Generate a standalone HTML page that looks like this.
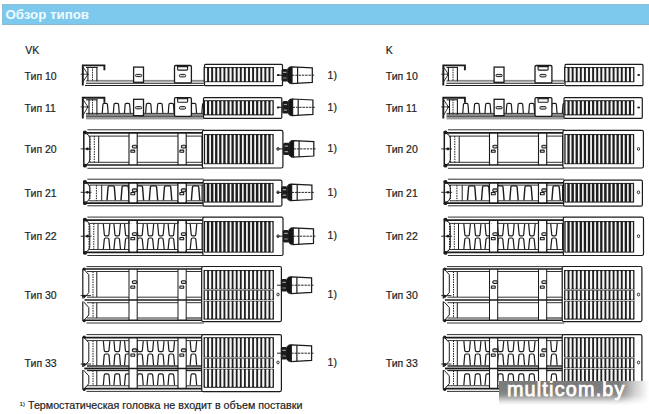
<!DOCTYPE html>
<html><head><meta charset="utf-8"><style>
html,body{margin:0;padding:0;background:#fff;}
body{width:649px;height:414px;position:relative;overflow:hidden;font-family:"Liberation Sans",sans-serif;color:#222;}
.bar{position:absolute;left:2px;top:4px;width:647px;height:21px;background:#7dc9ee;box-shadow:inset 0 1px 0 #8ebfd3, inset 0 -1px 0 #88b9cd, inset 1px 0 0 #8ebfd3;}
.bar span{position:absolute;left:3.4px;top:3.2px;font-size:13.3px;font-weight:bold;color:#effbff;}
.t{position:absolute;font-size:10.5px;white-space:nowrap;color:#1e1e1e;-webkit-text-stroke:0.2px #1e1e1e;}
.foot{position:absolute;left:28.0px;top:398.6px;font-size:10.7px;white-space:nowrap;color:#1e1e1e;-webkit-text-stroke:0.2px #1e1e1e;}
.sup{position:absolute;left:19.8px;top:400.7px;font-size:5.6px;color:#1e1e1e;-webkit-text-stroke:0.15px #1e1e1e;}
svg{position:absolute;left:0;top:0;}
.wm{position:absolute;left:499.3px;top:381.2px;width:150px;height:24px;overflow:hidden;background:#fff;}
.wm .sh{position:absolute;left:0;top:0;width:150px;height:24px;background:linear-gradient(180deg,#7a7a7a 0%,#7f7f7f 40%,#8e8e8e 58%,#b8b8b8 72%,#e4e4e4 86%,#fff 100%);-webkit-mask-image:linear-gradient(90deg,#000 0%,#000 80%,rgba(0,0,0,0.4) 90%,transparent 100%);}
.wm span{position:absolute;left:7.6px;top:-3.3px;font-size:19.8px;letter-spacing:1.2px;color:#fff;white-space:nowrap;-webkit-text-stroke:0.75px #fff;}
</style></head><body>
<div class="bar"><span>Обзор типов</span></div>
<div class="t" style="left:25.2px;top:43.9px">VK</div>
<div class="t" style="left:385.7px;top:43.9px">K</div>
<div class="t" style="left:24.6px;top:69.70px">Тип 10</div>
<div class="t" style="left:385.7px;top:69.70px">Тип 10</div>
<div class="t" style="left:327.6px;top:69.30px">1)</div>
<div class="t" style="left:24.6px;top:101.70px">Тип 11</div>
<div class="t" style="left:385.7px;top:101.70px">Тип 11</div>
<div class="t" style="left:327.6px;top:101.30px">1)</div>
<div class="t" style="left:24.6px;top:142.70px">Тип 20</div>
<div class="t" style="left:385.7px;top:142.70px">Тип 20</div>
<div class="t" style="left:327.6px;top:142.30px">1)</div>
<div class="t" style="left:24.6px;top:186.70px">Тип 21</div>
<div class="t" style="left:385.7px;top:186.70px">Тип 21</div>
<div class="t" style="left:327.6px;top:186.30px">1)</div>
<div class="t" style="left:24.6px;top:229.70px">Тип 22</div>
<div class="t" style="left:385.7px;top:229.70px">Тип 22</div>
<div class="t" style="left:327.6px;top:229.30px">1)</div>
<div class="t" style="left:24.6px;top:288.70px">Тип 30</div>
<div class="t" style="left:385.7px;top:288.70px">Тип 30</div>
<div class="t" style="left:327.6px;top:288.30px">1)</div>
<div class="t" style="left:24.6px;top:356.70px">Тип 33</div>
<div class="t" style="left:385.7px;top:356.70px">Тип 33</div>
<div class="t" style="left:327.6px;top:356.30px">1)</div>

<svg width="649" height="414" viewBox="0 0 649 414">
<g transform="translate(0,0)">
<rect x="86.00" y="79.90" width="117.80" height="1.80" fill="#8a8a8a" rx="0"/>
<line x1="86.00" y1="83.30" x2="203.80" y2="83.30" stroke="#1b1b1b" stroke-width="1.1" />
<line x1="85.00" y1="85.50" x2="203.80" y2="85.50" stroke="#1b1b1b" stroke-width="1.1" />
<path d="M82.8 85.60 L82.8 65.40 L104.4 65.40 L104.4 70.30" fill="none" stroke="#1b1b1b" stroke-width="1.9" />
<path d="M83.2 67.20 L87.9 74.20 L83.2 81.60" fill="none" stroke="#1b1b1b" stroke-width="0.9" />
<line x1="86.00" y1="67.40" x2="97.50" y2="67.40" stroke="#1b1b1b" stroke-width="1.1" />
<line x1="87.90" y1="67.00" x2="87.90" y2="81.00" stroke="#1b1b1b" stroke-width="1.1" />
<line x1="92.50" y1="67.00" x2="92.50" y2="81.00" stroke="#1b1b1b" stroke-width="0.9" stroke-dasharray="1.6 0.8"/>
<line x1="96.90" y1="67.00" x2="96.90" y2="81.20" stroke="#1b1b1b" stroke-width="1.1" />
<line x1="80.70" y1="74.20" x2="88.00" y2="74.20" stroke="#1b1b1b" stroke-width="0.8" />
<circle cx="87.60" cy="74.20" r="0.9" fill="#1b1b1b"/>
<rect x="133.60" y="67.10" width="9.90" height="15.20" fill="white" stroke="#1b1b1b" stroke-width="1.3" rx="0"/>
<rect x="135.50" y="74.40" width="6.20" height="2.20" fill="#ddd" stroke="#1b1b1b" stroke-width="1.0" rx="1.1"/>
<rect x="174.50" y="65.50" width="16.90" height="17.40" fill="white" stroke="#1b1b1b" stroke-width="1.3" rx="1.2"/>
<rect x="176.90" y="65.30" width="11.40" height="1.80" fill="#1b1b1b" rx="0"/>
<rect x="177.60" y="66.60" width="10.00" height="3.50" fill="white" stroke="#1b1b1b" stroke-width="1.1" rx="0.8"/>
<rect x="179.40" y="74.40" width="6.20" height="2.50" fill="#ddd" stroke="#1b1b1b" stroke-width="1.0" rx="1.1"/>
<rect x="204.50" y="64.40" width="78.00" height="21.30" fill="white" stroke="#1b1b1b" stroke-width="1.2" rx="1.0"/>
<rect x="203.60" y="67.00" width="70.30" height="15.20" fill="#1e1e1e" rx="0"/>
<rect x="204.90" y="67.80" width="2.20" height="13.60" fill="#f6f6f6" rx="1.0"/>
<rect x="208.99" y="67.80" width="2.20" height="13.60" fill="#f6f6f6" rx="1.0"/>
<rect x="213.09" y="67.80" width="2.20" height="13.60" fill="#f6f6f6" rx="1.0"/>
<rect x="217.18" y="67.80" width="2.20" height="13.60" fill="#f6f6f6" rx="1.0"/>
<rect x="221.28" y="67.80" width="2.20" height="13.60" fill="#f6f6f6" rx="1.0"/>
<rect x="225.37" y="67.80" width="2.20" height="13.60" fill="#f6f6f6" rx="1.0"/>
<rect x="229.46" y="67.80" width="2.20" height="13.60" fill="#f6f6f6" rx="1.0"/>
<rect x="233.56" y="67.80" width="2.20" height="13.60" fill="#f6f6f6" rx="1.0"/>
<rect x="237.65" y="67.80" width="2.20" height="13.60" fill="#f6f6f6" rx="1.0"/>
<rect x="241.74" y="67.80" width="2.20" height="13.60" fill="#f6f6f6" rx="1.0"/>
<rect x="245.84" y="67.80" width="2.20" height="13.60" fill="#f6f6f6" rx="1.0"/>
<rect x="249.93" y="67.80" width="2.20" height="13.60" fill="#f6f6f6" rx="1.0"/>
<rect x="254.03" y="67.80" width="2.20" height="13.60" fill="#f6f6f6" rx="1.0"/>
<rect x="258.12" y="67.80" width="2.20" height="13.60" fill="#f6f6f6" rx="1.0"/>
<rect x="262.21" y="67.80" width="2.20" height="13.60" fill="#f6f6f6" rx="1.0"/>
<rect x="266.31" y="67.80" width="2.20" height="13.60" fill="#f6f6f6" rx="1.0"/>
<rect x="270.40" y="67.80" width="2.20" height="13.60" fill="#f6f6f6" rx="1.0"/>
<ellipse cx="278.2" cy="75.00" rx="1.4" ry="1.0" fill="#1b1b1b"/>
<line x1="277.00" y1="75.20" x2="292.00" y2="75.20" stroke="#222" stroke-width="1.0" />
<rect x="281.60" y="69.00" width="6.20" height="12.40" fill="#1c1c1c" rx="1.6"/>
<rect x="283.00" y="71.80" width="3.60" height="1.20" fill="#9a9a9a" rx="0.5"/>
<rect x="283.00" y="77.40" width="3.60" height="1.20" fill="#9a9a9a" rx="0.5"/>
<path d="M287.60 68.80 L289.60 66.80 L292.00 66.80 L292.00 83.60 L289.60 83.60 L287.60 81.60 Z" fill="#151515" stroke="#1b1b1b" stroke-width="0.6" />
<path d="M292.00 66.90 L312.30 67.90 L312.30 82.30 L292.00 83.50 Z" fill="white" stroke="#1b1b1b" stroke-width="1.25" />
<line x1="297.60" y1="67.10" x2="297.60" y2="83.30" stroke="#1b1b1b" stroke-width="1.2" />
<line x1="292.00" y1="75.20" x2="314.40" y2="75.20" stroke="#222" stroke-width="1.0" stroke-dasharray="2.4 0.9"/>
<line x1="86.00" y1="113.40" x2="203.80" y2="113.40" stroke="#1b1b1b" stroke-width="0.9" />
<rect x="86.00" y="114.00" width="117.80" height="1.90" fill="#8c8c8c" rx="0"/>
<line x1="86.00" y1="116.35" x2="203.80" y2="116.35" stroke="#1b1b1b" stroke-width="0.9" />
<rect x="86.00" y="116.90" width="117.80" height="2.50" fill="#9a9a9a" rx="0"/>
<path d="M82.8 118.40 L82.8 97.80 L104.4 97.80 L104.4 102.70" fill="none" stroke="#1b1b1b" stroke-width="1.9" />
<path d="M83.2 99.60 L87.9 106.90 L83.2 115.10" fill="none" stroke="#1b1b1b" stroke-width="0.9" />
<line x1="86.00" y1="99.80" x2="97.50" y2="99.80" stroke="#1b1b1b" stroke-width="1.1" />
<line x1="89.00" y1="99.40" x2="89.00" y2="114.50" stroke="#1b1b1b" stroke-width="1.1" />
<line x1="92.50" y1="99.40" x2="92.50" y2="114.50" stroke="#1b1b1b" stroke-width="0.9" stroke-dasharray="1.6 0.8"/>
<line x1="96.90" y1="99.40" x2="96.90" y2="114.70" stroke="#1b1b1b" stroke-width="1.1" />
<line x1="80.70" y1="106.90" x2="88.00" y2="106.90" stroke="#1b1b1b" stroke-width="0.8" />
<circle cx="87.60" cy="106.90" r="0.9" fill="#1b1b1b"/>
<path d="M102.25 113.20 L102.90 104.70 Q102.90 103.30 104.30 103.30 L106.10 103.30 Q107.50 103.30 107.50 104.70 L108.15 113.20" fill="none" stroke="#1b1b1b" stroke-width="1.2" />
<path d="M113.35 113.20 L114.00 104.70 Q114.00 103.30 115.40 103.30 L117.20 103.30 Q118.60 103.30 118.60 104.70 L119.25 113.20" fill="none" stroke="#1b1b1b" stroke-width="1.2" />
<path d="M124.45 113.20 L125.10 104.70 Q125.10 103.30 126.50 103.30 L128.30 103.30 Q129.70 103.30 129.70 104.70 L130.35 113.20" fill="none" stroke="#1b1b1b" stroke-width="1.2" />
<path d="M145.65 113.20 L146.30 104.70 Q146.30 103.30 147.70 103.30 L149.50 103.30 Q150.90 103.30 150.90 104.70 L151.55 113.20" fill="none" stroke="#1b1b1b" stroke-width="1.2" />
<path d="M156.95 113.20 L157.60 104.70 Q157.60 103.30 159.00 103.30 L160.80 103.30 Q162.20 103.30 162.20 104.70 L162.85 113.20" fill="none" stroke="#1b1b1b" stroke-width="1.2" />
<path d="M168.25 113.20 L168.90 104.70 Q168.90 103.30 170.30 103.30 L172.10 103.30 Q173.50 103.30 173.50 104.70 L174.15 113.20" fill="none" stroke="#1b1b1b" stroke-width="1.2" />
<path d="M190.65 113.20 L191.30 104.70 Q191.30 103.30 192.70 103.30 L194.50 103.30 Q195.90 103.30 195.90 104.70 L196.55 113.20" fill="none" stroke="#1b1b1b" stroke-width="1.2" />
<path d="M201.85 113.20 L202.50 104.70 Q202.50 103.30 203.90 103.30 L205.70 103.30 Q207.10 103.30 207.10 104.70 L207.75 113.20" fill="none" stroke="#1b1b1b" stroke-width="1.2" />
<rect x="133.60" y="99.30" width="9.90" height="16.40" fill="white" stroke="#1b1b1b" stroke-width="1.3" rx="0"/>
<rect x="135.50" y="106.60" width="6.20" height="2.20" fill="#ddd" stroke="#1b1b1b" stroke-width="1.0" rx="1.1"/>
<rect x="174.50" y="97.70" width="16.90" height="18.60" fill="white" stroke="#1b1b1b" stroke-width="1.3" rx="1.2"/>
<rect x="176.90" y="97.50" width="11.40" height="1.80" fill="#1b1b1b" rx="0"/>
<rect x="177.60" y="98.80" width="10.00" height="3.50" fill="white" stroke="#1b1b1b" stroke-width="1.1" rx="0.8"/>
<rect x="179.40" y="106.60" width="6.20" height="2.50" fill="#ddd" stroke="#1b1b1b" stroke-width="1.0" rx="1.1"/>
<rect x="203.50" y="97.60" width="78.30" height="20.70" fill="white" stroke="#1b1b1b" stroke-width="1.2" rx="1.0"/>
<rect x="203.70" y="100.20" width="70.10" height="15.20" fill="#1e1e1e" rx="0"/>
<rect x="205.00" y="101.00" width="2.00" height="13.60" fill="#f6f6f6" rx="1.0"/>
<rect x="209.09" y="101.00" width="2.00" height="13.60" fill="#f6f6f6" rx="1.0"/>
<rect x="213.19" y="101.00" width="2.00" height="13.60" fill="#f6f6f6" rx="1.0"/>
<rect x="217.28" y="101.00" width="2.00" height="13.60" fill="#f6f6f6" rx="1.0"/>
<rect x="221.38" y="101.00" width="2.00" height="13.60" fill="#f6f6f6" rx="1.0"/>
<rect x="225.47" y="101.00" width="2.00" height="13.60" fill="#f6f6f6" rx="1.0"/>
<rect x="229.56" y="101.00" width="2.00" height="13.60" fill="#f6f6f6" rx="1.0"/>
<rect x="233.66" y="101.00" width="2.00" height="13.60" fill="#f6f6f6" rx="1.0"/>
<rect x="237.75" y="101.00" width="2.00" height="13.60" fill="#f6f6f6" rx="1.0"/>
<rect x="241.84" y="101.00" width="2.00" height="13.60" fill="#f6f6f6" rx="1.0"/>
<rect x="245.94" y="101.00" width="2.00" height="13.60" fill="#f6f6f6" rx="1.0"/>
<rect x="250.03" y="101.00" width="2.00" height="13.60" fill="#f6f6f6" rx="1.0"/>
<rect x="254.12" y="101.00" width="2.00" height="13.60" fill="#f6f6f6" rx="1.0"/>
<rect x="258.22" y="101.00" width="2.00" height="13.60" fill="#f6f6f6" rx="1.0"/>
<rect x="262.31" y="101.00" width="2.00" height="13.60" fill="#f6f6f6" rx="1.0"/>
<rect x="266.41" y="101.00" width="2.00" height="13.60" fill="#f6f6f6" rx="1.0"/>
<rect x="270.50" y="101.00" width="2.00" height="13.60" fill="#f6f6f6" rx="1.0"/>
<ellipse cx="278.2" cy="107.50" rx="1.4" ry="1.0" fill="#1b1b1b"/>
<line x1="277.00" y1="107.30" x2="292.60" y2="107.30" stroke="#222" stroke-width="1.0" />
<rect x="282.20" y="101.10" width="6.20" height="12.40" fill="#1c1c1c" rx="1.6"/>
<rect x="283.60" y="103.90" width="3.60" height="1.20" fill="#9a9a9a" rx="0.5"/>
<rect x="283.60" y="109.50" width="3.60" height="1.20" fill="#9a9a9a" rx="0.5"/>
<path d="M288.20 100.90 L290.20 98.90 L292.60 98.90 L292.60 115.70 L290.20 115.70 L288.20 113.70 Z" fill="#151515" stroke="#1b1b1b" stroke-width="0.6" />
<path d="M292.60 99.00 L312.90 100.00 L312.90 114.40 L292.60 115.60 Z" fill="white" stroke="#1b1b1b" stroke-width="1.25" />
<line x1="298.20" y1="99.20" x2="298.20" y2="115.40" stroke="#1b1b1b" stroke-width="1.2" />
<line x1="292.60" y1="107.30" x2="315.00" y2="107.30" stroke="#222" stroke-width="1.0" stroke-dasharray="2.4 0.9"/>
<line x1="87.40" y1="129.80" x2="203.80" y2="129.80" stroke="#1b1b1b" stroke-width="0.9" />
<line x1="84.40" y1="132.80" x2="203.80" y2="132.80" stroke="#1b1b1b" stroke-width="1.7" />
<line x1="89.40" y1="136.10" x2="129.00" y2="136.10" stroke="#1b1b1b" stroke-width="0.9" />
<line x1="137.20" y1="136.10" x2="178.00" y2="136.10" stroke="#1b1b1b" stroke-width="0.9" />
<line x1="186.20" y1="136.10" x2="203.80" y2="136.10" stroke="#1b1b1b" stroke-width="0.9" />
<line x1="87.40" y1="168.30" x2="203.80" y2="168.30" stroke="#1b1b1b" stroke-width="0.9" />
<line x1="84.40" y1="165.00" x2="203.80" y2="165.00" stroke="#1b1b1b" stroke-width="1.7" />
<line x1="89.40" y1="162.30" x2="129.00" y2="162.30" stroke="#1b1b1b" stroke-width="0.9" />
<line x1="137.20" y1="162.30" x2="178.00" y2="162.30" stroke="#1b1b1b" stroke-width="0.9" />
<line x1="186.20" y1="162.30" x2="203.80" y2="162.30" stroke="#1b1b1b" stroke-width="0.9" />
<line x1="90.00" y1="136.10" x2="90.00" y2="162.30" stroke="#1b1b1b" stroke-width="1.0" stroke-dasharray="1.5 1"/>
<line x1="94.30" y1="136.10" x2="94.30" y2="162.30" stroke="#1b1b1b" stroke-width="1.0" stroke-dasharray="1.5 1"/>
<line x1="98.70" y1="136.10" x2="98.70" y2="162.30" stroke="#1b1b1b" stroke-width="1.0" />
<line x1="129.00" y1="132.80" x2="129.00" y2="165.00" stroke="#1b1b1b" stroke-width="1.1" />
<line x1="137.20" y1="132.80" x2="137.20" y2="165.00" stroke="#1b1b1b" stroke-width="1.1" />
<line x1="178.00" y1="132.80" x2="178.00" y2="165.00" stroke="#1b1b1b" stroke-width="1.1" />
<line x1="186.20" y1="132.80" x2="186.20" y2="165.00" stroke="#1b1b1b" stroke-width="1.1" />
<line x1="202.00" y1="136.10" x2="202.00" y2="162.30" stroke="#1b1b1b" stroke-width="1.0" />
<line x1="83.80" y1="131.30" x2="83.80" y2="166.80" stroke="#1b1b1b" stroke-width="1.5" />
<circle cx="85.00" cy="132.40" r="1.9" fill="#1b1b1b"/>
<circle cx="85.00" cy="165.70" r="1.9" fill="#1b1b1b"/>
<path d="M85 132.80 Q89.8 134.80 89.8 138.30 L89.8 159.80 Q89.8 163.30 85 165.30" fill="none" stroke="#1b1b1b" stroke-width="1.0" />
<line x1="80.70" y1="148.90" x2="91.50" y2="148.90" stroke="#1b1b1b" stroke-width="0.9" />
<circle cx="87.40" cy="148.90" r="1.4" fill="#1b1b1b"/>
<rect x="132.30" y="145.20" width="4.60" height="2.80" fill="#cfcfcf" stroke="#1b1b1b" stroke-width="1.1" rx="1.2"/>
<rect x="130.90" y="150.10" width="3.80" height="2.20" fill="#e8e8e8" stroke="#1b1b1b" stroke-width="1.1" rx="0.3"/>
<rect x="181.30" y="145.20" width="4.60" height="2.80" fill="#cfcfcf" stroke="#1b1b1b" stroke-width="1.1" rx="1.2"/>
<rect x="179.90" y="150.10" width="3.80" height="2.20" fill="#e8e8e8" stroke="#1b1b1b" stroke-width="1.1" rx="0.3"/>
<rect x="202.40" y="130.40" width="80.50" height="37.60" fill="white" stroke="#1b1b1b" stroke-width="1.2" rx="1.5"/>
<rect x="203.80" y="134.00" width="69.90" height="30.20" fill="#1e1e1e" rx="0"/>
<rect x="205.10" y="134.80" width="1.80" height="28.60" fill="#f6f6f6" rx="0.9"/>
<rect x="209.19" y="134.80" width="1.80" height="28.60" fill="#f6f6f6" rx="0.9"/>
<rect x="213.29" y="134.80" width="1.80" height="28.60" fill="#f6f6f6" rx="0.9"/>
<rect x="217.38" y="134.80" width="1.80" height="28.60" fill="#f6f6f6" rx="0.9"/>
<rect x="221.47" y="134.80" width="1.80" height="28.60" fill="#f6f6f6" rx="0.9"/>
<rect x="225.57" y="134.80" width="1.80" height="28.60" fill="#f6f6f6" rx="0.9"/>
<rect x="229.66" y="134.80" width="1.80" height="28.60" fill="#f6f6f6" rx="0.9"/>
<rect x="233.76" y="134.80" width="1.80" height="28.60" fill="#f6f6f6" rx="0.9"/>
<rect x="237.85" y="134.80" width="1.80" height="28.60" fill="#f6f6f6" rx="0.9"/>
<rect x="241.94" y="134.80" width="1.80" height="28.60" fill="#f6f6f6" rx="0.9"/>
<rect x="246.04" y="134.80" width="1.80" height="28.60" fill="#f6f6f6" rx="0.9"/>
<rect x="250.13" y="134.80" width="1.80" height="28.60" fill="#f6f6f6" rx="0.9"/>
<rect x="254.22" y="134.80" width="1.80" height="28.60" fill="#f6f6f6" rx="0.9"/>
<rect x="258.32" y="134.80" width="1.80" height="28.60" fill="#f6f6f6" rx="0.9"/>
<rect x="262.41" y="134.80" width="1.80" height="28.60" fill="#f6f6f6" rx="0.9"/>
<rect x="266.51" y="134.80" width="1.80" height="28.60" fill="#f6f6f6" rx="0.9"/>
<rect x="270.60" y="134.80" width="1.80" height="28.60" fill="#f6f6f6" rx="0.9"/>
<ellipse cx="278.0" cy="148.90" rx="1.2" ry="1.4" fill="white" stroke="#1b1b1b" stroke-width="0.9"/>
<line x1="277.00" y1="148.90" x2="293.50" y2="148.90" stroke="#222" stroke-width="1.0" />
<rect x="283.10" y="142.70" width="6.20" height="12.40" fill="#1c1c1c" rx="1.6"/>
<rect x="284.50" y="145.50" width="3.60" height="1.20" fill="#9a9a9a" rx="0.5"/>
<rect x="284.50" y="151.10" width="3.60" height="1.20" fill="#9a9a9a" rx="0.5"/>
<path d="M289.10 142.50 L291.10 140.50 L293.50 140.50 L293.50 157.30 L291.10 157.30 L289.10 155.30 Z" fill="#151515" stroke="#1b1b1b" stroke-width="0.6" />
<path d="M293.50 140.60 L313.80 141.60 L313.80 156.00 L293.50 157.20 Z" fill="white" stroke="#1b1b1b" stroke-width="1.25" />
<line x1="299.10" y1="140.80" x2="299.10" y2="157.00" stroke="#1b1b1b" stroke-width="1.2" />
<line x1="293.50" y1="148.90" x2="315.90" y2="148.90" stroke="#222" stroke-width="1.0" stroke-dasharray="2.4 0.9"/>
<line x1="87.40" y1="179.20" x2="203.80" y2="179.20" stroke="#1b1b1b" stroke-width="0.9" />
<line x1="84.40" y1="182.80" x2="203.80" y2="182.80" stroke="#1b1b1b" stroke-width="1.7" />
<line x1="89.40" y1="185.10" x2="129.00" y2="185.10" stroke="#1b1b1b" stroke-width="0.9" />
<line x1="137.20" y1="185.10" x2="178.00" y2="185.10" stroke="#1b1b1b" stroke-width="0.9" />
<line x1="186.20" y1="185.10" x2="203.80" y2="185.10" stroke="#1b1b1b" stroke-width="0.9" />
<line x1="87.40" y1="205.80" x2="203.80" y2="205.80" stroke="#1b1b1b" stroke-width="0.9" />
<line x1="84.40" y1="203.10" x2="203.80" y2="203.10" stroke="#1b1b1b" stroke-width="1.7" />
<line x1="89.40" y1="200.80" x2="129.00" y2="200.80" stroke="#1b1b1b" stroke-width="0.9" />
<line x1="137.20" y1="200.80" x2="178.00" y2="200.80" stroke="#1b1b1b" stroke-width="0.9" />
<line x1="186.20" y1="200.80" x2="203.80" y2="200.80" stroke="#1b1b1b" stroke-width="0.9" />
<line x1="89.90" y1="185.10" x2="89.90" y2="200.80" stroke="#1b1b1b" stroke-width="1.0" stroke-dasharray="1.5 1"/>
<line x1="96.40" y1="185.10" x2="96.40" y2="200.80" stroke="#1b1b1b" stroke-width="1.0" stroke-dasharray="1.5 1"/>
<line x1="101.70" y1="185.10" x2="101.70" y2="200.80" stroke="#1b1b1b" stroke-width="1.0" />
<line x1="129.00" y1="182.80" x2="129.00" y2="203.10" stroke="#1b1b1b" stroke-width="1.1" />
<line x1="137.20" y1="182.80" x2="137.20" y2="203.10" stroke="#1b1b1b" stroke-width="1.1" />
<line x1="178.00" y1="182.80" x2="178.00" y2="203.10" stroke="#1b1b1b" stroke-width="1.1" />
<line x1="186.20" y1="182.80" x2="186.20" y2="203.10" stroke="#1b1b1b" stroke-width="1.1" />
<line x1="202.00" y1="185.10" x2="202.00" y2="200.80" stroke="#1b1b1b" stroke-width="1.0" />
<line x1="83.80" y1="180.70" x2="83.80" y2="204.30" stroke="#1b1b1b" stroke-width="1.5" />
<circle cx="85.00" cy="181.80" r="1.9" fill="#1b1b1b"/>
<circle cx="85.00" cy="203.20" r="1.9" fill="#1b1b1b"/>
<path d="M85 182.20 Q89.8 184.20 89.8 187.70 L89.8 197.30 Q89.8 200.80 85 202.80" fill="none" stroke="#1b1b1b" stroke-width="1.0" />
<line x1="80.70" y1="192.30" x2="91.50" y2="192.30" stroke="#1b1b1b" stroke-width="0.9" />
<circle cx="87.40" cy="192.30" r="1.4" fill="#1b1b1b"/>
<path d="M107.00 200.40 L108.05 187.30 Q108.05 185.90 109.45 185.90 L112.95 185.90 Q114.35 185.90 114.35 187.30 L115.40 200.40" fill="none" stroke="#1b1b1b" stroke-width="1.4" />
<path d="M121.00 200.40 L122.05 187.30 Q122.05 185.90 123.45 185.90 L126.95 185.90 Q128.35 185.90 128.35 187.30 L129.40 200.40" fill="none" stroke="#1b1b1b" stroke-width="1.4" />
<path d="M135.20 200.40 L136.25 187.30 Q136.25 185.90 137.65 185.90 L141.15 185.90 Q142.55 185.90 142.55 187.30 L143.60 200.40" fill="none" stroke="#1b1b1b" stroke-width="1.4" />
<path d="M149.30 200.40 L150.35 187.30 Q150.35 185.90 151.75 185.90 L155.25 185.90 Q156.65 185.90 156.65 187.30 L157.70 200.40" fill="none" stroke="#1b1b1b" stroke-width="1.4" />
<path d="M163.40 200.40 L164.45 187.30 Q164.45 185.90 165.85 185.90 L169.35 185.90 Q170.75 185.90 170.75 187.30 L171.80 200.40" fill="none" stroke="#1b1b1b" stroke-width="1.4" />
<path d="M191.40 200.40 L192.45 187.30 Q192.45 185.90 193.85 185.90 L197.35 185.90 Q198.75 185.90 198.75 187.30 L199.80 200.40" fill="none" stroke="#1b1b1b" stroke-width="1.4" />
<rect x="129.00" y="184.00" width="8.20" height="17.50" fill="white" rx="0"/>
<rect x="178.00" y="184.00" width="8.20" height="17.50" fill="white" rx="0"/>
<line x1="129.00" y1="182.80" x2="129.00" y2="203.10" stroke="#1b1b1b" stroke-width="1.1" />
<line x1="137.20" y1="182.80" x2="137.20" y2="203.10" stroke="#1b1b1b" stroke-width="1.1" />
<line x1="178.00" y1="182.80" x2="178.00" y2="203.10" stroke="#1b1b1b" stroke-width="1.1" />
<line x1="186.20" y1="182.80" x2="186.20" y2="203.10" stroke="#1b1b1b" stroke-width="1.1" />
<rect x="132.30" y="188.90" width="4.60" height="2.80" fill="#cfcfcf" stroke="#1b1b1b" stroke-width="1.1" rx="1.2"/>
<rect x="130.90" y="192.50" width="3.80" height="2.20" fill="#e8e8e8" stroke="#1b1b1b" stroke-width="1.1" rx="0.3"/>
<rect x="181.30" y="188.90" width="4.60" height="2.80" fill="#cfcfcf" stroke="#1b1b1b" stroke-width="1.1" rx="1.2"/>
<rect x="179.90" y="192.50" width="3.80" height="2.20" fill="#e8e8e8" stroke="#1b1b1b" stroke-width="1.1" rx="0.3"/>
<rect x="203.10" y="180.10" width="78.80" height="26.10" fill="white" stroke="#1b1b1b" stroke-width="1.2" rx="1.5"/>
<rect x="203.90" y="182.90" width="69.70" height="19.70" fill="#1e1e1e" rx="0"/>
<rect x="205.20" y="183.70" width="1.60" height="18.10" fill="#f6f6f6" rx="0.8"/>
<rect x="209.29" y="183.70" width="1.60" height="18.10" fill="#f6f6f6" rx="0.8"/>
<rect x="213.39" y="183.70" width="1.60" height="18.10" fill="#f6f6f6" rx="0.8"/>
<rect x="217.48" y="183.70" width="1.60" height="18.10" fill="#f6f6f6" rx="0.8"/>
<rect x="221.57" y="183.70" width="1.60" height="18.10" fill="#f6f6f6" rx="0.8"/>
<rect x="225.67" y="183.70" width="1.60" height="18.10" fill="#f6f6f6" rx="0.8"/>
<rect x="229.76" y="183.70" width="1.60" height="18.10" fill="#f6f6f6" rx="0.8"/>
<rect x="233.86" y="183.70" width="1.60" height="18.10" fill="#f6f6f6" rx="0.8"/>
<rect x="237.95" y="183.70" width="1.60" height="18.10" fill="#f6f6f6" rx="0.8"/>
<rect x="242.04" y="183.70" width="1.60" height="18.10" fill="#f6f6f6" rx="0.8"/>
<rect x="246.14" y="183.70" width="1.60" height="18.10" fill="#f6f6f6" rx="0.8"/>
<rect x="250.23" y="183.70" width="1.60" height="18.10" fill="#f6f6f6" rx="0.8"/>
<rect x="254.32" y="183.70" width="1.60" height="18.10" fill="#f6f6f6" rx="0.8"/>
<rect x="258.42" y="183.70" width="1.60" height="18.10" fill="#f6f6f6" rx="0.8"/>
<rect x="262.51" y="183.70" width="1.60" height="18.10" fill="#f6f6f6" rx="0.8"/>
<rect x="266.61" y="183.70" width="1.60" height="18.10" fill="#f6f6f6" rx="0.8"/>
<rect x="270.70" y="183.70" width="1.60" height="18.10" fill="#f6f6f6" rx="0.8"/>
<ellipse cx="278.0" cy="192.30" rx="1.2" ry="1.4" fill="white" stroke="#1b1b1b" stroke-width="0.9"/>
<line x1="277.00" y1="192.40" x2="291.60" y2="192.40" stroke="#222" stroke-width="1.0" />
<rect x="281.20" y="186.20" width="6.20" height="12.40" fill="#1c1c1c" rx="1.6"/>
<rect x="282.60" y="189.00" width="3.60" height="1.20" fill="#9a9a9a" rx="0.5"/>
<rect x="282.60" y="194.60" width="3.60" height="1.20" fill="#9a9a9a" rx="0.5"/>
<path d="M287.20 186.00 L289.20 184.00 L291.60 184.00 L291.60 200.80 L289.20 200.80 L287.20 198.80 Z" fill="#151515" stroke="#1b1b1b" stroke-width="0.6" />
<path d="M291.60 184.10 L311.90 185.10 L311.90 199.50 L291.60 200.70 Z" fill="white" stroke="#1b1b1b" stroke-width="1.25" />
<line x1="297.20" y1="184.30" x2="297.20" y2="200.50" stroke="#1b1b1b" stroke-width="1.2" />
<line x1="291.60" y1="192.40" x2="314.00" y2="192.40" stroke="#222" stroke-width="1.0" stroke-dasharray="2.4 0.9"/>
<line x1="87.40" y1="217.10" x2="203.80" y2="217.10" stroke="#1b1b1b" stroke-width="0.9" />
<line x1="84.40" y1="220.10" x2="203.80" y2="220.10" stroke="#1b1b1b" stroke-width="1.7" />
<line x1="89.40" y1="223.40" x2="129.00" y2="223.40" stroke="#1b1b1b" stroke-width="0.9" />
<line x1="137.20" y1="223.40" x2="178.00" y2="223.40" stroke="#1b1b1b" stroke-width="0.9" />
<line x1="186.20" y1="223.40" x2="203.80" y2="223.40" stroke="#1b1b1b" stroke-width="0.9" />
<line x1="87.40" y1="255.50" x2="203.80" y2="255.50" stroke="#1b1b1b" stroke-width="0.9" />
<line x1="84.40" y1="252.30" x2="203.80" y2="252.30" stroke="#1b1b1b" stroke-width="1.7" />
<line x1="89.40" y1="249.50" x2="129.00" y2="249.50" stroke="#1b1b1b" stroke-width="0.9" />
<line x1="137.20" y1="249.50" x2="178.00" y2="249.50" stroke="#1b1b1b" stroke-width="0.9" />
<line x1="186.20" y1="249.50" x2="203.80" y2="249.50" stroke="#1b1b1b" stroke-width="0.9" />
<line x1="89.00" y1="223.40" x2="89.00" y2="249.50" stroke="#1b1b1b" stroke-width="1.0" stroke-dasharray="1.5 1"/>
<line x1="93.80" y1="223.40" x2="93.80" y2="249.50" stroke="#1b1b1b" stroke-width="1.0" stroke-dasharray="1.5 1"/>
<line x1="98.00" y1="223.40" x2="98.00" y2="249.50" stroke="#1b1b1b" stroke-width="1.0" />
<line x1="129.00" y1="220.10" x2="129.00" y2="252.30" stroke="#1b1b1b" stroke-width="1.1" />
<line x1="137.20" y1="220.10" x2="137.20" y2="252.30" stroke="#1b1b1b" stroke-width="1.1" />
<line x1="178.00" y1="220.10" x2="178.00" y2="252.30" stroke="#1b1b1b" stroke-width="1.1" />
<line x1="186.20" y1="220.10" x2="186.20" y2="252.30" stroke="#1b1b1b" stroke-width="1.1" />
<line x1="202.00" y1="223.40" x2="202.00" y2="249.50" stroke="#1b1b1b" stroke-width="1.0" />
<line x1="83.80" y1="218.60" x2="83.80" y2="254.00" stroke="#1b1b1b" stroke-width="1.5" />
<circle cx="85.00" cy="219.70" r="1.9" fill="#1b1b1b"/>
<circle cx="85.00" cy="252.90" r="1.9" fill="#1b1b1b"/>
<path d="M85 220.10 Q89.8 222.10 89.8 225.60 L89.8 247.00 Q89.8 250.50 85 252.50" fill="none" stroke="#1b1b1b" stroke-width="1.0" />
<line x1="80.70" y1="236.20" x2="91.50" y2="236.20" stroke="#1b1b1b" stroke-width="0.9" />
<circle cx="87.40" cy="236.20" r="1.4" fill="#1b1b1b"/>
<path d="M103.30 223.80 L104.30 234.40 Q104.30 235.80 105.70 235.80 L107.50 235.80 Q108.90 235.80 108.90 234.40 L109.90 223.80" fill="none" stroke="#1b1b1b" stroke-width="1.2" />
<path d="M113.90 223.80 L114.90 234.40 Q114.90 235.80 116.30 235.80 L118.10 235.80 Q119.50 235.80 119.50 234.40 L120.50 223.80" fill="none" stroke="#1b1b1b" stroke-width="1.2" />
<path d="M124.50 223.80 L125.50 234.40 Q125.50 235.80 126.90 235.80 L128.70 235.80 Q130.10 235.80 130.10 234.40 L131.10 223.80" fill="none" stroke="#1b1b1b" stroke-width="1.2" />
<path d="M136.70 223.80 L137.70 234.40 Q137.70 235.80 139.10 235.80 L140.90 235.80 Q142.30 235.80 142.30 234.40 L143.30 223.80" fill="none" stroke="#1b1b1b" stroke-width="1.2" />
<path d="M147.10 223.80 L148.10 234.40 Q148.10 235.80 149.50 235.80 L151.30 235.80 Q152.70 235.80 152.70 234.40 L153.70 223.80" fill="none" stroke="#1b1b1b" stroke-width="1.2" />
<path d="M157.60 223.80 L158.60 234.40 Q158.60 235.80 160.00 235.80 L161.80 235.80 Q163.20 235.80 163.20 234.40 L164.20 223.80" fill="none" stroke="#1b1b1b" stroke-width="1.2" />
<path d="M168.10 223.80 L169.10 234.40 Q169.10 235.80 170.50 235.80 L172.30 235.80 Q173.70 235.80 173.70 234.40 L174.70 223.80" fill="none" stroke="#1b1b1b" stroke-width="1.2" />
<path d="M190.20 223.80 L191.20 234.40 Q191.20 235.80 192.60 235.80 L194.40 235.80 Q195.80 235.80 195.80 234.40 L196.80 223.80" fill="none" stroke="#1b1b1b" stroke-width="1.2" />
<path d="M103.30 249.40 L104.30 239.40 Q104.30 238.00 105.70 238.00 L107.50 238.00 Q108.90 238.00 108.90 239.40 L109.90 249.40" fill="none" stroke="#1b1b1b" stroke-width="1.2" />
<path d="M113.90 249.40 L114.90 239.40 Q114.90 238.00 116.30 238.00 L118.10 238.00 Q119.50 238.00 119.50 239.40 L120.50 249.40" fill="none" stroke="#1b1b1b" stroke-width="1.2" />
<path d="M124.50 249.40 L125.50 239.40 Q125.50 238.00 126.90 238.00 L128.70 238.00 Q130.10 238.00 130.10 239.40 L131.10 249.40" fill="none" stroke="#1b1b1b" stroke-width="1.2" />
<path d="M136.70 249.40 L137.70 239.40 Q137.70 238.00 139.10 238.00 L140.90 238.00 Q142.30 238.00 142.30 239.40 L143.30 249.40" fill="none" stroke="#1b1b1b" stroke-width="1.2" />
<path d="M147.10 249.40 L148.10 239.40 Q148.10 238.00 149.50 238.00 L151.30 238.00 Q152.70 238.00 152.70 239.40 L153.70 249.40" fill="none" stroke="#1b1b1b" stroke-width="1.2" />
<path d="M157.60 249.40 L158.60 239.40 Q158.60 238.00 160.00 238.00 L161.80 238.00 Q163.20 238.00 163.20 239.40 L164.20 249.40" fill="none" stroke="#1b1b1b" stroke-width="1.2" />
<path d="M168.10 249.40 L169.10 239.40 Q169.10 238.00 170.50 238.00 L172.30 238.00 Q173.70 238.00 173.70 239.40 L174.70 249.40" fill="none" stroke="#1b1b1b" stroke-width="1.2" />
<path d="M190.20 249.40 L191.20 239.40 Q191.20 238.00 192.60 238.00 L194.40 238.00 Q195.80 238.00 195.80 239.40 L196.80 249.40" fill="none" stroke="#1b1b1b" stroke-width="1.2" />
<rect x="129.00" y="224.00" width="8.20" height="26.00" fill="white" rx="0"/>
<rect x="178.00" y="224.00" width="8.20" height="26.00" fill="white" rx="0"/>
<line x1="129.00" y1="220.10" x2="129.00" y2="252.30" stroke="#1b1b1b" stroke-width="1.1" />
<line x1="137.20" y1="220.10" x2="137.20" y2="252.30" stroke="#1b1b1b" stroke-width="1.1" />
<line x1="178.00" y1="220.10" x2="178.00" y2="252.30" stroke="#1b1b1b" stroke-width="1.1" />
<line x1="186.20" y1="220.10" x2="186.20" y2="252.30" stroke="#1b1b1b" stroke-width="1.1" />
<rect x="132.30" y="232.70" width="4.60" height="2.80" fill="#cfcfcf" stroke="#1b1b1b" stroke-width="1.1" rx="1.2"/>
<rect x="130.90" y="237.50" width="3.80" height="2.20" fill="#e8e8e8" stroke="#1b1b1b" stroke-width="1.1" rx="0.3"/>
<rect x="181.30" y="232.70" width="4.60" height="2.80" fill="#cfcfcf" stroke="#1b1b1b" stroke-width="1.1" rx="1.2"/>
<rect x="179.90" y="237.50" width="3.80" height="2.20" fill="#e8e8e8" stroke="#1b1b1b" stroke-width="1.1" rx="0.3"/>
<rect x="202.80" y="217.20" width="80.20" height="38.30" fill="white" stroke="#1b1b1b" stroke-width="1.2" rx="1.5"/>
<rect x="203.80" y="221.00" width="69.90" height="31.60" fill="#1e1e1e" rx="0"/>
<rect x="205.10" y="221.80" width="1.80" height="30.00" fill="#f6f6f6" rx="0.9"/>
<rect x="209.19" y="221.80" width="1.80" height="30.00" fill="#f6f6f6" rx="0.9"/>
<rect x="213.29" y="221.80" width="1.80" height="30.00" fill="#f6f6f6" rx="0.9"/>
<rect x="217.38" y="221.80" width="1.80" height="30.00" fill="#f6f6f6" rx="0.9"/>
<rect x="221.47" y="221.80" width="1.80" height="30.00" fill="#f6f6f6" rx="0.9"/>
<rect x="225.57" y="221.80" width="1.80" height="30.00" fill="#f6f6f6" rx="0.9"/>
<rect x="229.66" y="221.80" width="1.80" height="30.00" fill="#f6f6f6" rx="0.9"/>
<rect x="233.76" y="221.80" width="1.80" height="30.00" fill="#f6f6f6" rx="0.9"/>
<rect x="237.85" y="221.80" width="1.80" height="30.00" fill="#f6f6f6" rx="0.9"/>
<rect x="241.94" y="221.80" width="1.80" height="30.00" fill="#f6f6f6" rx="0.9"/>
<rect x="246.04" y="221.80" width="1.80" height="30.00" fill="#f6f6f6" rx="0.9"/>
<rect x="250.13" y="221.80" width="1.80" height="30.00" fill="#f6f6f6" rx="0.9"/>
<rect x="254.22" y="221.80" width="1.80" height="30.00" fill="#f6f6f6" rx="0.9"/>
<rect x="258.32" y="221.80" width="1.80" height="30.00" fill="#f6f6f6" rx="0.9"/>
<rect x="262.41" y="221.80" width="1.80" height="30.00" fill="#f6f6f6" rx="0.9"/>
<rect x="266.51" y="221.80" width="1.80" height="30.00" fill="#f6f6f6" rx="0.9"/>
<rect x="270.60" y="221.80" width="1.80" height="30.00" fill="#f6f6f6" rx="0.9"/>
<ellipse cx="278.0" cy="236.20" rx="1.2" ry="1.4" fill="white" stroke="#1b1b1b" stroke-width="0.9"/>
<line x1="277.00" y1="236.20" x2="293.20" y2="236.20" stroke="#222" stroke-width="1.0" />
<rect x="282.80" y="230.00" width="6.20" height="12.40" fill="#1c1c1c" rx="1.6"/>
<rect x="284.20" y="232.80" width="3.60" height="1.20" fill="#9a9a9a" rx="0.5"/>
<rect x="284.20" y="238.40" width="3.60" height="1.20" fill="#9a9a9a" rx="0.5"/>
<path d="M288.80 229.80 L290.80 227.80 L293.20 227.80 L293.20 244.60 L290.80 244.60 L288.80 242.60 Z" fill="#151515" stroke="#1b1b1b" stroke-width="0.6" />
<path d="M293.20 227.90 L313.50 228.90 L313.50 243.30 L293.20 244.50 Z" fill="white" stroke="#1b1b1b" stroke-width="1.25" />
<line x1="298.80" y1="228.10" x2="298.80" y2="244.30" stroke="#1b1b1b" stroke-width="1.2" />
<line x1="293.20" y1="236.20" x2="315.60" y2="236.20" stroke="#222" stroke-width="1.0" stroke-dasharray="2.4 0.9"/>
<line x1="86.50" y1="266.60" x2="203.80" y2="266.60" stroke="#1b1b1b" stroke-width="0.9" />
<line x1="84.50" y1="269.00" x2="203.80" y2="269.00" stroke="#1b1b1b" stroke-width="1.7" />
<line x1="87.00" y1="271.50" x2="129.00" y2="271.50" stroke="#1b1b1b" stroke-width="0.9" />
<line x1="137.20" y1="271.50" x2="178.00" y2="271.50" stroke="#1b1b1b" stroke-width="0.9" />
<line x1="186.20" y1="271.50" x2="203.30" y2="271.50" stroke="#1b1b1b" stroke-width="0.9" />
<line x1="87.00" y1="297.20" x2="129.00" y2="297.20" stroke="#1b1b1b" stroke-width="0.9" />
<line x1="137.20" y1="297.20" x2="178.00" y2="297.20" stroke="#1b1b1b" stroke-width="0.9" />
<line x1="186.20" y1="297.20" x2="203.30" y2="297.20" stroke="#1b1b1b" stroke-width="0.9" />
<line x1="84.50" y1="300.10" x2="203.80" y2="300.10" stroke="#1b1b1b" stroke-width="1.5" />
<line x1="87.00" y1="302.70" x2="129.00" y2="302.70" stroke="#1b1b1b" stroke-width="0.9" />
<line x1="137.20" y1="302.70" x2="178.00" y2="302.70" stroke="#1b1b1b" stroke-width="0.9" />
<line x1="186.20" y1="302.70" x2="203.30" y2="302.70" stroke="#1b1b1b" stroke-width="0.9" />
<line x1="87.00" y1="318.00" x2="129.00" y2="318.00" stroke="#333" stroke-width="1.2" />
<line x1="137.20" y1="318.00" x2="178.00" y2="318.00" stroke="#333" stroke-width="1.2" />
<line x1="186.20" y1="318.00" x2="203.30" y2="318.00" stroke="#333" stroke-width="1.2" />
<line x1="84.50" y1="320.20" x2="203.80" y2="320.20" stroke="#1b1b1b" stroke-width="1.6" />
<line x1="86.50" y1="323.00" x2="203.80" y2="323.00" stroke="#1b1b1b" stroke-width="0.9" />
<line x1="93.00" y1="271.50" x2="93.00" y2="297.20" stroke="#1b1b1b" stroke-width="1.0" stroke-dasharray="1.5 1"/>
<line x1="96.80" y1="271.50" x2="96.80" y2="297.20" stroke="#1b1b1b" stroke-width="1.0" />
<line x1="93.00" y1="302.70" x2="93.00" y2="318.00" stroke="#1b1b1b" stroke-width="1.0" stroke-dasharray="1.5 1"/>
<line x1="96.80" y1="302.70" x2="96.80" y2="318.00" stroke="#1b1b1b" stroke-width="1.0" />
<line x1="129.00" y1="269.00" x2="129.00" y2="320.20" stroke="#1b1b1b" stroke-width="1.0" />
<line x1="137.20" y1="269.00" x2="137.20" y2="320.20" stroke="#1b1b1b" stroke-width="1.0" />
<line x1="178.00" y1="269.00" x2="178.00" y2="320.20" stroke="#1b1b1b" stroke-width="1.0" />
<line x1="186.20" y1="269.00" x2="186.20" y2="320.20" stroke="#1b1b1b" stroke-width="1.0" />
<line x1="202.00" y1="271.50" x2="202.00" y2="318.00" stroke="#1b1b1b" stroke-width="1.0" />
<line x1="82.80" y1="268.80" x2="82.80" y2="298.60" stroke="#1b1b1b" stroke-width="1.2" />
<path d="M83.6 269.00 L88.8 274.70 L88.8 292.70 L83.6 298.40" fill="none" stroke="#1b1b1b" stroke-width="1.0" />
<line x1="82.80" y1="301.60" x2="82.80" y2="320.90" stroke="#1b1b1b" stroke-width="1.2" />
<path d="M83.6 301.80 L88.8 307.50 L88.8 315.00 L83.6 320.70" fill="none" stroke="#1b1b1b" stroke-width="1.0" />
<circle cx="84.20" cy="269.00" r="1.5" fill="#1b1b1b"/>
<circle cx="84.20" cy="320.70" r="1.5" fill="#1b1b1b"/>
<circle cx="84.20" cy="296.20" r="1.4" fill="#1b1b1b"/>
<line x1="80.70" y1="295.60" x2="91.00" y2="295.60" stroke="#1b1b1b" stroke-width="0.9" />
<rect x="132.30" y="280.70" width="4.60" height="2.80" fill="#cfcfcf" stroke="#1b1b1b" stroke-width="1.1" rx="1.2"/>
<rect x="130.90" y="286.00" width="3.80" height="2.20" fill="#e8e8e8" stroke="#1b1b1b" stroke-width="1.1" rx="0.3"/>
<rect x="181.30" y="280.70" width="4.60" height="2.80" fill="#cfcfcf" stroke="#1b1b1b" stroke-width="1.1" rx="1.2"/>
<rect x="179.90" y="286.00" width="3.80" height="2.20" fill="#e8e8e8" stroke="#1b1b1b" stroke-width="1.1" rx="0.3"/>
<rect x="201.70" y="266.50" width="79.70" height="55.10" fill="white" stroke="#1b1b1b" stroke-width="1.2" rx="1.5"/>
<rect x="203.55" y="270.00" width="70.40" height="49.60" fill="#1e1e1e" rx="0"/>
<rect x="204.85" y="270.80" width="2.30" height="18.25" fill="#f6f6f6" rx="1.0"/>
<rect x="204.85" y="290.55" width="2.30" height="9.30" fill="#f6f6f6" rx="1.0"/>
<rect x="204.85" y="301.35" width="2.30" height="17.45" fill="#f6f6f6" rx="1.0"/>
<rect x="208.94" y="270.80" width="2.30" height="18.25" fill="#f6f6f6" rx="1.0"/>
<rect x="208.94" y="290.55" width="2.30" height="9.30" fill="#f6f6f6" rx="1.0"/>
<rect x="208.94" y="301.35" width="2.30" height="17.45" fill="#f6f6f6" rx="1.0"/>
<rect x="213.04" y="270.80" width="2.30" height="18.25" fill="#f6f6f6" rx="1.0"/>
<rect x="213.04" y="290.55" width="2.30" height="9.30" fill="#f6f6f6" rx="1.0"/>
<rect x="213.04" y="301.35" width="2.30" height="17.45" fill="#f6f6f6" rx="1.0"/>
<rect x="217.13" y="270.80" width="2.30" height="18.25" fill="#f6f6f6" rx="1.0"/>
<rect x="217.13" y="290.55" width="2.30" height="9.30" fill="#f6f6f6" rx="1.0"/>
<rect x="217.13" y="301.35" width="2.30" height="17.45" fill="#f6f6f6" rx="1.0"/>
<rect x="221.22" y="270.80" width="2.30" height="18.25" fill="#f6f6f6" rx="1.0"/>
<rect x="221.22" y="290.55" width="2.30" height="9.30" fill="#f6f6f6" rx="1.0"/>
<rect x="221.22" y="301.35" width="2.30" height="17.45" fill="#f6f6f6" rx="1.0"/>
<rect x="225.32" y="270.80" width="2.30" height="18.25" fill="#f6f6f6" rx="1.0"/>
<rect x="225.32" y="290.55" width="2.30" height="9.30" fill="#f6f6f6" rx="1.0"/>
<rect x="225.32" y="301.35" width="2.30" height="17.45" fill="#f6f6f6" rx="1.0"/>
<rect x="229.41" y="270.80" width="2.30" height="18.25" fill="#f6f6f6" rx="1.0"/>
<rect x="229.41" y="290.55" width="2.30" height="9.30" fill="#f6f6f6" rx="1.0"/>
<rect x="229.41" y="301.35" width="2.30" height="17.45" fill="#f6f6f6" rx="1.0"/>
<rect x="233.51" y="270.80" width="2.30" height="18.25" fill="#f6f6f6" rx="1.0"/>
<rect x="233.51" y="290.55" width="2.30" height="9.30" fill="#f6f6f6" rx="1.0"/>
<rect x="233.51" y="301.35" width="2.30" height="17.45" fill="#f6f6f6" rx="1.0"/>
<rect x="237.60" y="270.80" width="2.30" height="18.25" fill="#f6f6f6" rx="1.0"/>
<rect x="237.60" y="290.55" width="2.30" height="9.30" fill="#f6f6f6" rx="1.0"/>
<rect x="237.60" y="301.35" width="2.30" height="17.45" fill="#f6f6f6" rx="1.0"/>
<rect x="241.69" y="270.80" width="2.30" height="18.25" fill="#f6f6f6" rx="1.0"/>
<rect x="241.69" y="290.55" width="2.30" height="9.30" fill="#f6f6f6" rx="1.0"/>
<rect x="241.69" y="301.35" width="2.30" height="17.45" fill="#f6f6f6" rx="1.0"/>
<rect x="245.79" y="270.80" width="2.30" height="18.25" fill="#f6f6f6" rx="1.0"/>
<rect x="245.79" y="290.55" width="2.30" height="9.30" fill="#f6f6f6" rx="1.0"/>
<rect x="245.79" y="301.35" width="2.30" height="17.45" fill="#f6f6f6" rx="1.0"/>
<rect x="249.88" y="270.80" width="2.30" height="18.25" fill="#f6f6f6" rx="1.0"/>
<rect x="249.88" y="290.55" width="2.30" height="9.30" fill="#f6f6f6" rx="1.0"/>
<rect x="249.88" y="301.35" width="2.30" height="17.45" fill="#f6f6f6" rx="1.0"/>
<rect x="253.97" y="270.80" width="2.30" height="18.25" fill="#f6f6f6" rx="1.0"/>
<rect x="253.97" y="290.55" width="2.30" height="9.30" fill="#f6f6f6" rx="1.0"/>
<rect x="253.97" y="301.35" width="2.30" height="17.45" fill="#f6f6f6" rx="1.0"/>
<rect x="258.07" y="270.80" width="2.30" height="18.25" fill="#f6f6f6" rx="1.0"/>
<rect x="258.07" y="290.55" width="2.30" height="9.30" fill="#f6f6f6" rx="1.0"/>
<rect x="258.07" y="301.35" width="2.30" height="17.45" fill="#f6f6f6" rx="1.0"/>
<rect x="262.16" y="270.80" width="2.30" height="18.25" fill="#f6f6f6" rx="1.0"/>
<rect x="262.16" y="290.55" width="2.30" height="9.30" fill="#f6f6f6" rx="1.0"/>
<rect x="262.16" y="301.35" width="2.30" height="17.45" fill="#f6f6f6" rx="1.0"/>
<rect x="266.26" y="270.80" width="2.30" height="18.25" fill="#f6f6f6" rx="1.0"/>
<rect x="266.26" y="290.55" width="2.30" height="9.30" fill="#f6f6f6" rx="1.0"/>
<rect x="266.26" y="301.35" width="2.30" height="17.45" fill="#f6f6f6" rx="1.0"/>
<rect x="270.35" y="270.80" width="2.30" height="18.25" fill="#f6f6f6" rx="1.0"/>
<rect x="270.35" y="290.55" width="2.30" height="9.30" fill="#f6f6f6" rx="1.0"/>
<rect x="270.35" y="301.35" width="2.30" height="17.45" fill="#f6f6f6" rx="1.0"/>
<rect x="203.55" y="289.35" width="70.40" height="0.90" fill="#e8e8e8" rx="0"/>
<rect x="203.55" y="300.15" width="70.40" height="0.90" fill="#e8e8e8" rx="0"/>
<ellipse cx="278.0" cy="294.50" rx="1.2" ry="1.4" fill="white" stroke="#1b1b1b" stroke-width="0.9"/>
<line x1="277.00" y1="285.20" x2="291.30" y2="285.20" stroke="#222" stroke-width="1.0" />
<rect x="280.90" y="279.00" width="6.20" height="12.40" fill="#1c1c1c" rx="1.6"/>
<rect x="282.30" y="281.80" width="3.60" height="1.20" fill="#9a9a9a" rx="0.5"/>
<rect x="282.30" y="287.40" width="3.60" height="1.20" fill="#9a9a9a" rx="0.5"/>
<path d="M286.90 278.80 L288.90 276.80 L291.30 276.80 L291.30 293.60 L288.90 293.60 L286.90 291.60 Z" fill="#151515" stroke="#1b1b1b" stroke-width="0.6" />
<path d="M291.30 276.90 L311.60 277.90 L311.60 292.30 L291.30 293.50 Z" fill="white" stroke="#1b1b1b" stroke-width="1.25" />
<line x1="296.90" y1="277.10" x2="296.90" y2="293.30" stroke="#1b1b1b" stroke-width="1.2" />
<line x1="291.30" y1="285.20" x2="313.70" y2="285.20" stroke="#222" stroke-width="1.0" stroke-dasharray="2.4 0.9"/>
<line x1="86.50" y1="334.60" x2="203.80" y2="334.60" stroke="#1b1b1b" stroke-width="0.9" />
<line x1="84.50" y1="337.60" x2="203.80" y2="337.60" stroke="#1b1b1b" stroke-width="1.7" />
<line x1="87.00" y1="340.60" x2="129.00" y2="340.60" stroke="#1b1b1b" stroke-width="0.9" />
<line x1="137.20" y1="340.60" x2="178.00" y2="340.60" stroke="#1b1b1b" stroke-width="0.9" />
<line x1="186.20" y1="340.60" x2="203.30" y2="340.60" stroke="#1b1b1b" stroke-width="0.9" />
<line x1="87.00" y1="366.00" x2="129.00" y2="366.00" stroke="#1b1b1b" stroke-width="0.9" />
<line x1="137.20" y1="366.00" x2="178.00" y2="366.00" stroke="#1b1b1b" stroke-width="0.9" />
<line x1="186.20" y1="366.00" x2="203.30" y2="366.00" stroke="#1b1b1b" stroke-width="0.9" />
<line x1="84.50" y1="368.50" x2="203.80" y2="368.50" stroke="#1b1b1b" stroke-width="1.5" />
<line x1="87.00" y1="370.60" x2="129.00" y2="370.60" stroke="#1b1b1b" stroke-width="0.9" />
<line x1="137.20" y1="370.60" x2="178.00" y2="370.60" stroke="#1b1b1b" stroke-width="0.9" />
<line x1="186.20" y1="370.60" x2="203.30" y2="370.60" stroke="#1b1b1b" stroke-width="0.9" />
<line x1="87.00" y1="385.80" x2="129.00" y2="385.80" stroke="#333" stroke-width="1.1" />
<line x1="137.20" y1="385.80" x2="178.00" y2="385.80" stroke="#333" stroke-width="1.1" />
<line x1="186.20" y1="385.80" x2="203.30" y2="385.80" stroke="#333" stroke-width="1.1" />
<line x1="84.50" y1="388.60" x2="203.80" y2="388.60" stroke="#1b1b1b" stroke-width="1.7" />
<line x1="86.50" y1="391.40" x2="203.80" y2="391.40" stroke="#1b1b1b" stroke-width="0.9" />
<line x1="93.00" y1="340.60" x2="93.00" y2="366.00" stroke="#1b1b1b" stroke-width="1.0" stroke-dasharray="1.5 1"/>
<line x1="96.80" y1="340.60" x2="96.80" y2="366.00" stroke="#1b1b1b" stroke-width="1.0" />
<line x1="93.00" y1="370.60" x2="93.00" y2="385.80" stroke="#1b1b1b" stroke-width="1.0" stroke-dasharray="1.5 1"/>
<line x1="96.80" y1="370.60" x2="96.80" y2="385.80" stroke="#1b1b1b" stroke-width="1.0" />
<line x1="82.80" y1="336.80" x2="82.80" y2="367.00" stroke="#1b1b1b" stroke-width="1.2" />
<path d="M83.6 337.00 L88.8 342.70 L88.8 361.10 L83.6 366.80" fill="none" stroke="#1b1b1b" stroke-width="1.0" />
<line x1="82.80" y1="370.00" x2="82.80" y2="389.60" stroke="#1b1b1b" stroke-width="1.2" />
<path d="M83.6 370.20 L88.8 375.90 L88.8 383.70 L83.6 389.40" fill="none" stroke="#1b1b1b" stroke-width="1.0" />
<circle cx="84.20" cy="337.00" r="1.5" fill="#1b1b1b"/>
<circle cx="84.20" cy="389.60" r="1.5" fill="#1b1b1b"/>
<circle cx="84.20" cy="364.60" r="1.4" fill="#1b1b1b"/>
<line x1="80.70" y1="364.00" x2="91.00" y2="364.00" stroke="#1b1b1b" stroke-width="0.9" />
<path d="M103.35 341.10 L104.20 350.30 Q104.20 351.70 105.60 351.70 L107.60 351.70 Q109.00 351.70 109.00 350.30 L109.85 341.10" fill="none" stroke="#1b1b1b" stroke-width="1.2" />
<path d="M113.95 341.10 L114.80 350.30 Q114.80 351.70 116.20 351.70 L118.20 351.70 Q119.60 351.70 119.60 350.30 L120.45 341.10" fill="none" stroke="#1b1b1b" stroke-width="1.2" />
<path d="M124.55 341.10 L125.40 350.30 Q125.40 351.70 126.80 351.70 L128.80 351.70 Q130.20 351.70 130.20 350.30 L131.05 341.10" fill="none" stroke="#1b1b1b" stroke-width="1.2" />
<path d="M136.75 341.10 L137.60 350.30 Q137.60 351.70 139.00 351.70 L141.00 351.70 Q142.40 351.70 142.40 350.30 L143.25 341.10" fill="none" stroke="#1b1b1b" stroke-width="1.2" />
<path d="M147.05 341.10 L147.90 350.30 Q147.90 351.70 149.30 351.70 L151.30 351.70 Q152.70 351.70 152.70 350.30 L153.55 341.10" fill="none" stroke="#1b1b1b" stroke-width="1.2" />
<path d="M157.55 341.10 L158.40 350.30 Q158.40 351.70 159.80 351.70 L161.80 351.70 Q163.20 351.70 163.20 350.30 L164.05 341.10" fill="none" stroke="#1b1b1b" stroke-width="1.2" />
<path d="M168.05 341.10 L168.90 350.30 Q168.90 351.70 170.30 351.70 L172.30 351.70 Q173.70 351.70 173.70 350.30 L174.55 341.10" fill="none" stroke="#1b1b1b" stroke-width="1.2" />
<path d="M190.15 341.10 L191.00 350.30 Q191.00 351.70 192.40 351.70 L194.40 351.70 Q195.80 351.70 195.80 350.30 L196.65 341.10" fill="none" stroke="#1b1b1b" stroke-width="1.2" />
<path d="M103.35 365.10 L104.20 355.40 Q104.20 354.00 105.60 354.00 L107.60 354.00 Q109.00 354.00 109.00 355.40 L109.85 365.10" fill="none" stroke="#1b1b1b" stroke-width="1.2" />
<path d="M113.95 365.10 L114.80 355.40 Q114.80 354.00 116.20 354.00 L118.20 354.00 Q119.60 354.00 119.60 355.40 L120.45 365.10" fill="none" stroke="#1b1b1b" stroke-width="1.2" />
<path d="M124.55 365.10 L125.40 355.40 Q125.40 354.00 126.80 354.00 L128.80 354.00 Q130.20 354.00 130.20 355.40 L131.05 365.10" fill="none" stroke="#1b1b1b" stroke-width="1.2" />
<path d="M136.75 365.10 L137.60 355.40 Q137.60 354.00 139.00 354.00 L141.00 354.00 Q142.40 354.00 142.40 355.40 L143.25 365.10" fill="none" stroke="#1b1b1b" stroke-width="1.2" />
<path d="M147.05 365.10 L147.90 355.40 Q147.90 354.00 149.30 354.00 L151.30 354.00 Q152.70 354.00 152.70 355.40 L153.55 365.10" fill="none" stroke="#1b1b1b" stroke-width="1.2" />
<path d="M157.55 365.10 L158.40 355.40 Q158.40 354.00 159.80 354.00 L161.80 354.00 Q163.20 354.00 163.20 355.40 L164.05 365.10" fill="none" stroke="#1b1b1b" stroke-width="1.2" />
<path d="M168.05 365.10 L168.90 355.40 Q168.90 354.00 170.30 354.00 L172.30 354.00 Q173.70 354.00 173.70 355.40 L174.55 365.10" fill="none" stroke="#1b1b1b" stroke-width="1.2" />
<path d="M190.15 365.10 L191.00 355.40 Q191.00 354.00 192.40 354.00 L194.40 354.00 Q195.80 354.00 195.80 355.40 L196.65 365.10" fill="none" stroke="#1b1b1b" stroke-width="1.2" />
<path d="M103.35 385.00 L104.20 375.30 Q104.20 373.90 105.60 373.90 L107.60 373.90 Q109.00 373.90 109.00 375.30 L109.85 385.00" fill="none" stroke="#1b1b1b" stroke-width="1.2" />
<path d="M113.95 385.00 L114.80 375.30 Q114.80 373.90 116.20 373.90 L118.20 373.90 Q119.60 373.90 119.60 375.30 L120.45 385.00" fill="none" stroke="#1b1b1b" stroke-width="1.2" />
<path d="M124.55 385.00 L125.40 375.30 Q125.40 373.90 126.80 373.90 L128.80 373.90 Q130.20 373.90 130.20 375.30 L131.05 385.00" fill="none" stroke="#1b1b1b" stroke-width="1.2" />
<path d="M136.75 385.00 L137.60 375.30 Q137.60 373.90 139.00 373.90 L141.00 373.90 Q142.40 373.90 142.40 375.30 L143.25 385.00" fill="none" stroke="#1b1b1b" stroke-width="1.2" />
<path d="M147.05 385.00 L147.90 375.30 Q147.90 373.90 149.30 373.90 L151.30 373.90 Q152.70 373.90 152.70 375.30 L153.55 385.00" fill="none" stroke="#1b1b1b" stroke-width="1.2" />
<path d="M157.55 385.00 L158.40 375.30 Q158.40 373.90 159.80 373.90 L161.80 373.90 Q163.20 373.90 163.20 375.30 L164.05 385.00" fill="none" stroke="#1b1b1b" stroke-width="1.2" />
<path d="M168.05 385.00 L168.90 375.30 Q168.90 373.90 170.30 373.90 L172.30 373.90 Q173.70 373.90 173.70 375.30 L174.55 385.00" fill="none" stroke="#1b1b1b" stroke-width="1.2" />
<path d="M190.15 385.00 L191.00 375.30 Q191.00 373.90 192.40 373.90 L194.40 373.90 Q195.80 373.90 195.80 375.30 L196.65 385.00" fill="none" stroke="#1b1b1b" stroke-width="1.2" />
<rect x="129.00" y="341.20" width="8.20" height="44.00" fill="white" rx="0"/>
<rect x="178.00" y="341.20" width="8.20" height="44.00" fill="white" rx="0"/>
<line x1="129.00" y1="337.60" x2="129.00" y2="388.60" stroke="#1b1b1b" stroke-width="1.1" />
<line x1="137.20" y1="337.60" x2="137.20" y2="388.60" stroke="#1b1b1b" stroke-width="1.1" />
<line x1="178.00" y1="337.60" x2="178.00" y2="388.60" stroke="#1b1b1b" stroke-width="1.1" />
<line x1="186.20" y1="337.60" x2="186.20" y2="388.60" stroke="#1b1b1b" stroke-width="1.1" />
<line x1="87.00" y1="366.00" x2="129.00" y2="366.00" stroke="#1b1b1b" stroke-width="0.9" />
<line x1="137.20" y1="366.00" x2="178.00" y2="366.00" stroke="#1b1b1b" stroke-width="0.9" />
<line x1="186.20" y1="366.00" x2="203.30" y2="366.00" stroke="#1b1b1b" stroke-width="0.9" />
<line x1="87.00" y1="370.60" x2="129.00" y2="370.60" stroke="#1b1b1b" stroke-width="0.9" />
<line x1="137.20" y1="370.60" x2="178.00" y2="370.60" stroke="#1b1b1b" stroke-width="0.9" />
<line x1="186.20" y1="370.60" x2="203.30" y2="370.60" stroke="#1b1b1b" stroke-width="0.9" />
<line x1="84.50" y1="368.50" x2="203.80" y2="368.50" stroke="#1b1b1b" stroke-width="1.5" />
<line x1="202.00" y1="340.60" x2="202.00" y2="385.80" stroke="#1b1b1b" stroke-width="1.0" />
<rect x="132.30" y="348.90" width="4.60" height="2.80" fill="#cfcfcf" stroke="#1b1b1b" stroke-width="1.1" rx="1.2"/>
<rect x="130.90" y="354.00" width="3.80" height="2.20" fill="#e8e8e8" stroke="#1b1b1b" stroke-width="1.1" rx="0.3"/>
<rect x="181.30" y="348.90" width="4.60" height="2.80" fill="#cfcfcf" stroke="#1b1b1b" stroke-width="1.1" rx="1.2"/>
<rect x="179.90" y="354.00" width="3.80" height="2.20" fill="#e8e8e8" stroke="#1b1b1b" stroke-width="1.1" rx="0.3"/>
<rect x="201.70" y="334.60" width="79.70" height="57.00" fill="white" stroke="#1b1b1b" stroke-width="1.2" rx="1.5"/>
<rect x="203.55" y="337.20" width="70.40" height="50.60" fill="#1e1e1e" rx="0"/>
<rect x="204.85" y="338.00" width="2.30" height="19.05" fill="#f6f6f6" rx="1.0"/>
<rect x="204.85" y="358.55" width="2.30" height="9.30" fill="#f6f6f6" rx="1.0"/>
<rect x="204.85" y="369.35" width="2.30" height="17.65" fill="#f6f6f6" rx="1.0"/>
<rect x="208.94" y="338.00" width="2.30" height="19.05" fill="#f6f6f6" rx="1.0"/>
<rect x="208.94" y="358.55" width="2.30" height="9.30" fill="#f6f6f6" rx="1.0"/>
<rect x="208.94" y="369.35" width="2.30" height="17.65" fill="#f6f6f6" rx="1.0"/>
<rect x="213.04" y="338.00" width="2.30" height="19.05" fill="#f6f6f6" rx="1.0"/>
<rect x="213.04" y="358.55" width="2.30" height="9.30" fill="#f6f6f6" rx="1.0"/>
<rect x="213.04" y="369.35" width="2.30" height="17.65" fill="#f6f6f6" rx="1.0"/>
<rect x="217.13" y="338.00" width="2.30" height="19.05" fill="#f6f6f6" rx="1.0"/>
<rect x="217.13" y="358.55" width="2.30" height="9.30" fill="#f6f6f6" rx="1.0"/>
<rect x="217.13" y="369.35" width="2.30" height="17.65" fill="#f6f6f6" rx="1.0"/>
<rect x="221.22" y="338.00" width="2.30" height="19.05" fill="#f6f6f6" rx="1.0"/>
<rect x="221.22" y="358.55" width="2.30" height="9.30" fill="#f6f6f6" rx="1.0"/>
<rect x="221.22" y="369.35" width="2.30" height="17.65" fill="#f6f6f6" rx="1.0"/>
<rect x="225.32" y="338.00" width="2.30" height="19.05" fill="#f6f6f6" rx="1.0"/>
<rect x="225.32" y="358.55" width="2.30" height="9.30" fill="#f6f6f6" rx="1.0"/>
<rect x="225.32" y="369.35" width="2.30" height="17.65" fill="#f6f6f6" rx="1.0"/>
<rect x="229.41" y="338.00" width="2.30" height="19.05" fill="#f6f6f6" rx="1.0"/>
<rect x="229.41" y="358.55" width="2.30" height="9.30" fill="#f6f6f6" rx="1.0"/>
<rect x="229.41" y="369.35" width="2.30" height="17.65" fill="#f6f6f6" rx="1.0"/>
<rect x="233.51" y="338.00" width="2.30" height="19.05" fill="#f6f6f6" rx="1.0"/>
<rect x="233.51" y="358.55" width="2.30" height="9.30" fill="#f6f6f6" rx="1.0"/>
<rect x="233.51" y="369.35" width="2.30" height="17.65" fill="#f6f6f6" rx="1.0"/>
<rect x="237.60" y="338.00" width="2.30" height="19.05" fill="#f6f6f6" rx="1.0"/>
<rect x="237.60" y="358.55" width="2.30" height="9.30" fill="#f6f6f6" rx="1.0"/>
<rect x="237.60" y="369.35" width="2.30" height="17.65" fill="#f6f6f6" rx="1.0"/>
<rect x="241.69" y="338.00" width="2.30" height="19.05" fill="#f6f6f6" rx="1.0"/>
<rect x="241.69" y="358.55" width="2.30" height="9.30" fill="#f6f6f6" rx="1.0"/>
<rect x="241.69" y="369.35" width="2.30" height="17.65" fill="#f6f6f6" rx="1.0"/>
<rect x="245.79" y="338.00" width="2.30" height="19.05" fill="#f6f6f6" rx="1.0"/>
<rect x="245.79" y="358.55" width="2.30" height="9.30" fill="#f6f6f6" rx="1.0"/>
<rect x="245.79" y="369.35" width="2.30" height="17.65" fill="#f6f6f6" rx="1.0"/>
<rect x="249.88" y="338.00" width="2.30" height="19.05" fill="#f6f6f6" rx="1.0"/>
<rect x="249.88" y="358.55" width="2.30" height="9.30" fill="#f6f6f6" rx="1.0"/>
<rect x="249.88" y="369.35" width="2.30" height="17.65" fill="#f6f6f6" rx="1.0"/>
<rect x="253.97" y="338.00" width="2.30" height="19.05" fill="#f6f6f6" rx="1.0"/>
<rect x="253.97" y="358.55" width="2.30" height="9.30" fill="#f6f6f6" rx="1.0"/>
<rect x="253.97" y="369.35" width="2.30" height="17.65" fill="#f6f6f6" rx="1.0"/>
<rect x="258.07" y="338.00" width="2.30" height="19.05" fill="#f6f6f6" rx="1.0"/>
<rect x="258.07" y="358.55" width="2.30" height="9.30" fill="#f6f6f6" rx="1.0"/>
<rect x="258.07" y="369.35" width="2.30" height="17.65" fill="#f6f6f6" rx="1.0"/>
<rect x="262.16" y="338.00" width="2.30" height="19.05" fill="#f6f6f6" rx="1.0"/>
<rect x="262.16" y="358.55" width="2.30" height="9.30" fill="#f6f6f6" rx="1.0"/>
<rect x="262.16" y="369.35" width="2.30" height="17.65" fill="#f6f6f6" rx="1.0"/>
<rect x="266.26" y="338.00" width="2.30" height="19.05" fill="#f6f6f6" rx="1.0"/>
<rect x="266.26" y="358.55" width="2.30" height="9.30" fill="#f6f6f6" rx="1.0"/>
<rect x="266.26" y="369.35" width="2.30" height="17.65" fill="#f6f6f6" rx="1.0"/>
<rect x="270.35" y="338.00" width="2.30" height="19.05" fill="#f6f6f6" rx="1.0"/>
<rect x="270.35" y="358.55" width="2.30" height="9.30" fill="#f6f6f6" rx="1.0"/>
<rect x="270.35" y="369.35" width="2.30" height="17.65" fill="#f6f6f6" rx="1.0"/>
<rect x="203.55" y="357.35" width="70.40" height="0.90" fill="#e8e8e8" rx="0"/>
<rect x="203.55" y="368.15" width="70.40" height="0.90" fill="#e8e8e8" rx="0"/>
<ellipse cx="278.0" cy="362.50" rx="1.2" ry="1.4" fill="white" stroke="#1b1b1b" stroke-width="0.9"/>
<line x1="277.00" y1="353.20" x2="291.30" y2="353.20" stroke="#222" stroke-width="1.0" />
<rect x="280.90" y="347.00" width="6.20" height="12.40" fill="#1c1c1c" rx="1.6"/>
<rect x="282.30" y="349.80" width="3.60" height="1.20" fill="#9a9a9a" rx="0.5"/>
<rect x="282.30" y="355.40" width="3.60" height="1.20" fill="#9a9a9a" rx="0.5"/>
<path d="M286.90 346.80 L288.90 344.80 L291.30 344.80 L291.30 361.60 L288.90 361.60 L286.90 359.60 Z" fill="#151515" stroke="#1b1b1b" stroke-width="0.6" />
<path d="M291.30 344.90 L311.60 345.90 L311.60 360.30 L291.30 361.50 Z" fill="white" stroke="#1b1b1b" stroke-width="1.25" />
<line x1="296.90" y1="345.10" x2="296.90" y2="361.30" stroke="#1b1b1b" stroke-width="1.2" />
<line x1="291.30" y1="353.20" x2="313.70" y2="353.20" stroke="#222" stroke-width="1.0" stroke-dasharray="2.4 0.9"/>
</g>
<g transform="translate(360.5,0)">
<rect x="86.00" y="79.90" width="117.80" height="1.80" fill="#8a8a8a" rx="0"/>
<line x1="86.00" y1="83.30" x2="203.80" y2="83.30" stroke="#1b1b1b" stroke-width="1.1" />
<line x1="85.00" y1="85.50" x2="203.80" y2="85.50" stroke="#1b1b1b" stroke-width="1.1" />
<path d="M82.8 85.60 L82.8 65.40 L104.4 65.40 L104.4 70.30" fill="none" stroke="#1b1b1b" stroke-width="1.9" />
<path d="M83.2 67.20 L87.9 74.20 L83.2 81.60" fill="none" stroke="#1b1b1b" stroke-width="0.9" />
<line x1="86.00" y1="67.40" x2="97.50" y2="67.40" stroke="#1b1b1b" stroke-width="1.1" />
<line x1="87.90" y1="67.00" x2="87.90" y2="81.00" stroke="#1b1b1b" stroke-width="1.1" />
<line x1="92.50" y1="67.00" x2="92.50" y2="81.00" stroke="#1b1b1b" stroke-width="0.9" stroke-dasharray="1.6 0.8"/>
<line x1="96.90" y1="67.00" x2="96.90" y2="81.20" stroke="#1b1b1b" stroke-width="1.1" />
<line x1="80.70" y1="74.20" x2="88.00" y2="74.20" stroke="#1b1b1b" stroke-width="0.8" />
<circle cx="87.60" cy="74.20" r="0.9" fill="#1b1b1b"/>
<rect x="133.60" y="67.10" width="9.90" height="15.20" fill="white" stroke="#1b1b1b" stroke-width="1.3" rx="0"/>
<rect x="135.50" y="74.40" width="6.20" height="2.20" fill="#ddd" stroke="#1b1b1b" stroke-width="1.0" rx="1.1"/>
<rect x="174.50" y="65.50" width="16.90" height="17.40" fill="white" stroke="#1b1b1b" stroke-width="1.3" rx="1.2"/>
<rect x="176.90" y="65.30" width="11.40" height="1.80" fill="#1b1b1b" rx="0"/>
<rect x="177.60" y="66.60" width="10.00" height="3.50" fill="white" stroke="#1b1b1b" stroke-width="1.1" rx="0.8"/>
<rect x="179.40" y="74.40" width="6.20" height="2.50" fill="#ddd" stroke="#1b1b1b" stroke-width="1.0" rx="1.1"/>
<rect x="204.50" y="64.40" width="78.00" height="21.30" fill="white" stroke="#1b1b1b" stroke-width="1.2" rx="1.0"/>
<rect x="203.60" y="67.00" width="70.30" height="15.20" fill="#1e1e1e" rx="0"/>
<rect x="204.90" y="67.80" width="2.20" height="13.60" fill="#f6f6f6" rx="1.0"/>
<rect x="208.99" y="67.80" width="2.20" height="13.60" fill="#f6f6f6" rx="1.0"/>
<rect x="213.09" y="67.80" width="2.20" height="13.60" fill="#f6f6f6" rx="1.0"/>
<rect x="217.18" y="67.80" width="2.20" height="13.60" fill="#f6f6f6" rx="1.0"/>
<rect x="221.28" y="67.80" width="2.20" height="13.60" fill="#f6f6f6" rx="1.0"/>
<rect x="225.37" y="67.80" width="2.20" height="13.60" fill="#f6f6f6" rx="1.0"/>
<rect x="229.46" y="67.80" width="2.20" height="13.60" fill="#f6f6f6" rx="1.0"/>
<rect x="233.56" y="67.80" width="2.20" height="13.60" fill="#f6f6f6" rx="1.0"/>
<rect x="237.65" y="67.80" width="2.20" height="13.60" fill="#f6f6f6" rx="1.0"/>
<rect x="241.74" y="67.80" width="2.20" height="13.60" fill="#f6f6f6" rx="1.0"/>
<rect x="245.84" y="67.80" width="2.20" height="13.60" fill="#f6f6f6" rx="1.0"/>
<rect x="249.93" y="67.80" width="2.20" height="13.60" fill="#f6f6f6" rx="1.0"/>
<rect x="254.03" y="67.80" width="2.20" height="13.60" fill="#f6f6f6" rx="1.0"/>
<rect x="258.12" y="67.80" width="2.20" height="13.60" fill="#f6f6f6" rx="1.0"/>
<rect x="262.21" y="67.80" width="2.20" height="13.60" fill="#f6f6f6" rx="1.0"/>
<rect x="266.31" y="67.80" width="2.20" height="13.60" fill="#f6f6f6" rx="1.0"/>
<rect x="270.40" y="67.80" width="2.20" height="13.60" fill="#f6f6f6" rx="1.0"/>
<ellipse cx="278.2" cy="75.00" rx="1.4" ry="1.0" fill="#1b1b1b"/>
<line x1="86.00" y1="113.40" x2="203.80" y2="113.40" stroke="#1b1b1b" stroke-width="0.9" />
<rect x="86.00" y="114.00" width="117.80" height="1.90" fill="#8c8c8c" rx="0"/>
<line x1="86.00" y1="116.35" x2="203.80" y2="116.35" stroke="#1b1b1b" stroke-width="0.9" />
<rect x="86.00" y="116.90" width="117.80" height="2.50" fill="#9a9a9a" rx="0"/>
<path d="M82.8 118.40 L82.8 97.80 L104.4 97.80 L104.4 102.70" fill="none" stroke="#1b1b1b" stroke-width="1.9" />
<path d="M83.2 99.60 L87.9 106.90 L83.2 115.10" fill="none" stroke="#1b1b1b" stroke-width="0.9" />
<line x1="86.00" y1="99.80" x2="97.50" y2="99.80" stroke="#1b1b1b" stroke-width="1.1" />
<line x1="89.00" y1="99.40" x2="89.00" y2="114.50" stroke="#1b1b1b" stroke-width="1.1" />
<line x1="92.50" y1="99.40" x2="92.50" y2="114.50" stroke="#1b1b1b" stroke-width="0.9" stroke-dasharray="1.6 0.8"/>
<line x1="96.90" y1="99.40" x2="96.90" y2="114.70" stroke="#1b1b1b" stroke-width="1.1" />
<line x1="80.70" y1="106.90" x2="88.00" y2="106.90" stroke="#1b1b1b" stroke-width="0.8" />
<circle cx="87.60" cy="106.90" r="0.9" fill="#1b1b1b"/>
<path d="M102.25 113.20 L102.90 104.70 Q102.90 103.30 104.30 103.30 L106.10 103.30 Q107.50 103.30 107.50 104.70 L108.15 113.20" fill="none" stroke="#1b1b1b" stroke-width="1.2" />
<path d="M113.35 113.20 L114.00 104.70 Q114.00 103.30 115.40 103.30 L117.20 103.30 Q118.60 103.30 118.60 104.70 L119.25 113.20" fill="none" stroke="#1b1b1b" stroke-width="1.2" />
<path d="M124.45 113.20 L125.10 104.70 Q125.10 103.30 126.50 103.30 L128.30 103.30 Q129.70 103.30 129.70 104.70 L130.35 113.20" fill="none" stroke="#1b1b1b" stroke-width="1.2" />
<path d="M145.65 113.20 L146.30 104.70 Q146.30 103.30 147.70 103.30 L149.50 103.30 Q150.90 103.30 150.90 104.70 L151.55 113.20" fill="none" stroke="#1b1b1b" stroke-width="1.2" />
<path d="M156.95 113.20 L157.60 104.70 Q157.60 103.30 159.00 103.30 L160.80 103.30 Q162.20 103.30 162.20 104.70 L162.85 113.20" fill="none" stroke="#1b1b1b" stroke-width="1.2" />
<path d="M168.25 113.20 L168.90 104.70 Q168.90 103.30 170.30 103.30 L172.10 103.30 Q173.50 103.30 173.50 104.70 L174.15 113.20" fill="none" stroke="#1b1b1b" stroke-width="1.2" />
<path d="M190.65 113.20 L191.30 104.70 Q191.30 103.30 192.70 103.30 L194.50 103.30 Q195.90 103.30 195.90 104.70 L196.55 113.20" fill="none" stroke="#1b1b1b" stroke-width="1.2" />
<path d="M201.85 113.20 L202.50 104.70 Q202.50 103.30 203.90 103.30 L205.70 103.30 Q207.10 103.30 207.10 104.70 L207.75 113.20" fill="none" stroke="#1b1b1b" stroke-width="1.2" />
<rect x="133.60" y="99.30" width="9.90" height="16.40" fill="white" stroke="#1b1b1b" stroke-width="1.3" rx="0"/>
<rect x="135.50" y="106.60" width="6.20" height="2.20" fill="#ddd" stroke="#1b1b1b" stroke-width="1.0" rx="1.1"/>
<rect x="174.50" y="97.70" width="16.90" height="18.60" fill="white" stroke="#1b1b1b" stroke-width="1.3" rx="1.2"/>
<rect x="176.90" y="97.50" width="11.40" height="1.80" fill="#1b1b1b" rx="0"/>
<rect x="177.60" y="98.80" width="10.00" height="3.50" fill="white" stroke="#1b1b1b" stroke-width="1.1" rx="0.8"/>
<rect x="179.40" y="106.60" width="6.20" height="2.50" fill="#ddd" stroke="#1b1b1b" stroke-width="1.0" rx="1.1"/>
<rect x="203.50" y="97.60" width="78.30" height="20.70" fill="white" stroke="#1b1b1b" stroke-width="1.2" rx="1.0"/>
<rect x="203.70" y="100.20" width="70.10" height="15.20" fill="#1e1e1e" rx="0"/>
<rect x="205.00" y="101.00" width="2.00" height="13.60" fill="#f6f6f6" rx="1.0"/>
<rect x="209.09" y="101.00" width="2.00" height="13.60" fill="#f6f6f6" rx="1.0"/>
<rect x="213.19" y="101.00" width="2.00" height="13.60" fill="#f6f6f6" rx="1.0"/>
<rect x="217.28" y="101.00" width="2.00" height="13.60" fill="#f6f6f6" rx="1.0"/>
<rect x="221.38" y="101.00" width="2.00" height="13.60" fill="#f6f6f6" rx="1.0"/>
<rect x="225.47" y="101.00" width="2.00" height="13.60" fill="#f6f6f6" rx="1.0"/>
<rect x="229.56" y="101.00" width="2.00" height="13.60" fill="#f6f6f6" rx="1.0"/>
<rect x="233.66" y="101.00" width="2.00" height="13.60" fill="#f6f6f6" rx="1.0"/>
<rect x="237.75" y="101.00" width="2.00" height="13.60" fill="#f6f6f6" rx="1.0"/>
<rect x="241.84" y="101.00" width="2.00" height="13.60" fill="#f6f6f6" rx="1.0"/>
<rect x="245.94" y="101.00" width="2.00" height="13.60" fill="#f6f6f6" rx="1.0"/>
<rect x="250.03" y="101.00" width="2.00" height="13.60" fill="#f6f6f6" rx="1.0"/>
<rect x="254.12" y="101.00" width="2.00" height="13.60" fill="#f6f6f6" rx="1.0"/>
<rect x="258.22" y="101.00" width="2.00" height="13.60" fill="#f6f6f6" rx="1.0"/>
<rect x="262.31" y="101.00" width="2.00" height="13.60" fill="#f6f6f6" rx="1.0"/>
<rect x="266.41" y="101.00" width="2.00" height="13.60" fill="#f6f6f6" rx="1.0"/>
<rect x="270.50" y="101.00" width="2.00" height="13.60" fill="#f6f6f6" rx="1.0"/>
<ellipse cx="278.2" cy="107.50" rx="1.4" ry="1.0" fill="#1b1b1b"/>
<line x1="87.40" y1="129.80" x2="203.80" y2="129.80" stroke="#1b1b1b" stroke-width="0.9" />
<line x1="84.40" y1="132.80" x2="203.80" y2="132.80" stroke="#1b1b1b" stroke-width="1.7" />
<line x1="89.40" y1="136.10" x2="129.00" y2="136.10" stroke="#1b1b1b" stroke-width="0.9" />
<line x1="137.20" y1="136.10" x2="178.00" y2="136.10" stroke="#1b1b1b" stroke-width="0.9" />
<line x1="186.20" y1="136.10" x2="203.80" y2="136.10" stroke="#1b1b1b" stroke-width="0.9" />
<line x1="87.40" y1="168.30" x2="203.80" y2="168.30" stroke="#1b1b1b" stroke-width="0.9" />
<line x1="84.40" y1="165.00" x2="203.80" y2="165.00" stroke="#1b1b1b" stroke-width="1.7" />
<line x1="89.40" y1="162.30" x2="129.00" y2="162.30" stroke="#1b1b1b" stroke-width="0.9" />
<line x1="137.20" y1="162.30" x2="178.00" y2="162.30" stroke="#1b1b1b" stroke-width="0.9" />
<line x1="186.20" y1="162.30" x2="203.80" y2="162.30" stroke="#1b1b1b" stroke-width="0.9" />
<line x1="90.00" y1="136.10" x2="90.00" y2="162.30" stroke="#1b1b1b" stroke-width="1.0" stroke-dasharray="1.5 1"/>
<line x1="94.30" y1="136.10" x2="94.30" y2="162.30" stroke="#1b1b1b" stroke-width="1.0" stroke-dasharray="1.5 1"/>
<line x1="98.70" y1="136.10" x2="98.70" y2="162.30" stroke="#1b1b1b" stroke-width="1.0" />
<line x1="129.00" y1="132.80" x2="129.00" y2="165.00" stroke="#1b1b1b" stroke-width="1.1" />
<line x1="137.20" y1="132.80" x2="137.20" y2="165.00" stroke="#1b1b1b" stroke-width="1.1" />
<line x1="178.00" y1="132.80" x2="178.00" y2="165.00" stroke="#1b1b1b" stroke-width="1.1" />
<line x1="186.20" y1="132.80" x2="186.20" y2="165.00" stroke="#1b1b1b" stroke-width="1.1" />
<line x1="202.00" y1="136.10" x2="202.00" y2="162.30" stroke="#1b1b1b" stroke-width="1.0" />
<line x1="83.80" y1="131.30" x2="83.80" y2="166.80" stroke="#1b1b1b" stroke-width="1.5" />
<circle cx="85.00" cy="132.40" r="1.9" fill="#1b1b1b"/>
<circle cx="85.00" cy="165.70" r="1.9" fill="#1b1b1b"/>
<path d="M85 132.80 Q89.8 134.80 89.8 138.30 L89.8 159.80 Q89.8 163.30 85 165.30" fill="none" stroke="#1b1b1b" stroke-width="1.0" />
<line x1="80.70" y1="148.90" x2="91.50" y2="148.90" stroke="#1b1b1b" stroke-width="0.9" />
<circle cx="87.40" cy="148.90" r="1.4" fill="#1b1b1b"/>
<rect x="132.30" y="145.20" width="4.60" height="2.80" fill="#cfcfcf" stroke="#1b1b1b" stroke-width="1.1" rx="1.2"/>
<rect x="130.90" y="150.10" width="3.80" height="2.20" fill="#e8e8e8" stroke="#1b1b1b" stroke-width="1.1" rx="0.3"/>
<rect x="181.30" y="145.20" width="4.60" height="2.80" fill="#cfcfcf" stroke="#1b1b1b" stroke-width="1.1" rx="1.2"/>
<rect x="179.90" y="150.10" width="3.80" height="2.20" fill="#e8e8e8" stroke="#1b1b1b" stroke-width="1.1" rx="0.3"/>
<rect x="202.40" y="130.40" width="80.50" height="37.60" fill="white" stroke="#1b1b1b" stroke-width="1.2" rx="1.5"/>
<rect x="203.80" y="134.00" width="69.90" height="30.20" fill="#1e1e1e" rx="0"/>
<rect x="205.10" y="134.80" width="1.80" height="28.60" fill="#f6f6f6" rx="0.9"/>
<rect x="209.19" y="134.80" width="1.80" height="28.60" fill="#f6f6f6" rx="0.9"/>
<rect x="213.29" y="134.80" width="1.80" height="28.60" fill="#f6f6f6" rx="0.9"/>
<rect x="217.38" y="134.80" width="1.80" height="28.60" fill="#f6f6f6" rx="0.9"/>
<rect x="221.47" y="134.80" width="1.80" height="28.60" fill="#f6f6f6" rx="0.9"/>
<rect x="225.57" y="134.80" width="1.80" height="28.60" fill="#f6f6f6" rx="0.9"/>
<rect x="229.66" y="134.80" width="1.80" height="28.60" fill="#f6f6f6" rx="0.9"/>
<rect x="233.76" y="134.80" width="1.80" height="28.60" fill="#f6f6f6" rx="0.9"/>
<rect x="237.85" y="134.80" width="1.80" height="28.60" fill="#f6f6f6" rx="0.9"/>
<rect x="241.94" y="134.80" width="1.80" height="28.60" fill="#f6f6f6" rx="0.9"/>
<rect x="246.04" y="134.80" width="1.80" height="28.60" fill="#f6f6f6" rx="0.9"/>
<rect x="250.13" y="134.80" width="1.80" height="28.60" fill="#f6f6f6" rx="0.9"/>
<rect x="254.22" y="134.80" width="1.80" height="28.60" fill="#f6f6f6" rx="0.9"/>
<rect x="258.32" y="134.80" width="1.80" height="28.60" fill="#f6f6f6" rx="0.9"/>
<rect x="262.41" y="134.80" width="1.80" height="28.60" fill="#f6f6f6" rx="0.9"/>
<rect x="266.51" y="134.80" width="1.80" height="28.60" fill="#f6f6f6" rx="0.9"/>
<rect x="270.60" y="134.80" width="1.80" height="28.60" fill="#f6f6f6" rx="0.9"/>
<ellipse cx="278.0" cy="148.90" rx="1.2" ry="1.4" fill="white" stroke="#1b1b1b" stroke-width="0.9"/>
<line x1="87.40" y1="179.20" x2="203.80" y2="179.20" stroke="#1b1b1b" stroke-width="0.9" />
<line x1="84.40" y1="182.80" x2="203.80" y2="182.80" stroke="#1b1b1b" stroke-width="1.7" />
<line x1="89.40" y1="185.10" x2="129.00" y2="185.10" stroke="#1b1b1b" stroke-width="0.9" />
<line x1="137.20" y1="185.10" x2="178.00" y2="185.10" stroke="#1b1b1b" stroke-width="0.9" />
<line x1="186.20" y1="185.10" x2="203.80" y2="185.10" stroke="#1b1b1b" stroke-width="0.9" />
<line x1="87.40" y1="205.80" x2="203.80" y2="205.80" stroke="#1b1b1b" stroke-width="0.9" />
<line x1="84.40" y1="203.10" x2="203.80" y2="203.10" stroke="#1b1b1b" stroke-width="1.7" />
<line x1="89.40" y1="200.80" x2="129.00" y2="200.80" stroke="#1b1b1b" stroke-width="0.9" />
<line x1="137.20" y1="200.80" x2="178.00" y2="200.80" stroke="#1b1b1b" stroke-width="0.9" />
<line x1="186.20" y1="200.80" x2="203.80" y2="200.80" stroke="#1b1b1b" stroke-width="0.9" />
<line x1="89.90" y1="185.10" x2="89.90" y2="200.80" stroke="#1b1b1b" stroke-width="1.0" stroke-dasharray="1.5 1"/>
<line x1="96.40" y1="185.10" x2="96.40" y2="200.80" stroke="#1b1b1b" stroke-width="1.0" stroke-dasharray="1.5 1"/>
<line x1="101.70" y1="185.10" x2="101.70" y2="200.80" stroke="#1b1b1b" stroke-width="1.0" />
<line x1="129.00" y1="182.80" x2="129.00" y2="203.10" stroke="#1b1b1b" stroke-width="1.1" />
<line x1="137.20" y1="182.80" x2="137.20" y2="203.10" stroke="#1b1b1b" stroke-width="1.1" />
<line x1="178.00" y1="182.80" x2="178.00" y2="203.10" stroke="#1b1b1b" stroke-width="1.1" />
<line x1="186.20" y1="182.80" x2="186.20" y2="203.10" stroke="#1b1b1b" stroke-width="1.1" />
<line x1="202.00" y1="185.10" x2="202.00" y2="200.80" stroke="#1b1b1b" stroke-width="1.0" />
<line x1="83.80" y1="180.70" x2="83.80" y2="204.30" stroke="#1b1b1b" stroke-width="1.5" />
<circle cx="85.00" cy="181.80" r="1.9" fill="#1b1b1b"/>
<circle cx="85.00" cy="203.20" r="1.9" fill="#1b1b1b"/>
<path d="M85 182.20 Q89.8 184.20 89.8 187.70 L89.8 197.30 Q89.8 200.80 85 202.80" fill="none" stroke="#1b1b1b" stroke-width="1.0" />
<line x1="80.70" y1="192.30" x2="91.50" y2="192.30" stroke="#1b1b1b" stroke-width="0.9" />
<circle cx="87.40" cy="192.30" r="1.4" fill="#1b1b1b"/>
<path d="M107.00 200.40 L108.05 187.30 Q108.05 185.90 109.45 185.90 L112.95 185.90 Q114.35 185.90 114.35 187.30 L115.40 200.40" fill="none" stroke="#1b1b1b" stroke-width="1.4" />
<path d="M121.00 200.40 L122.05 187.30 Q122.05 185.90 123.45 185.90 L126.95 185.90 Q128.35 185.90 128.35 187.30 L129.40 200.40" fill="none" stroke="#1b1b1b" stroke-width="1.4" />
<path d="M135.20 200.40 L136.25 187.30 Q136.25 185.90 137.65 185.90 L141.15 185.90 Q142.55 185.90 142.55 187.30 L143.60 200.40" fill="none" stroke="#1b1b1b" stroke-width="1.4" />
<path d="M149.30 200.40 L150.35 187.30 Q150.35 185.90 151.75 185.90 L155.25 185.90 Q156.65 185.90 156.65 187.30 L157.70 200.40" fill="none" stroke="#1b1b1b" stroke-width="1.4" />
<path d="M163.40 200.40 L164.45 187.30 Q164.45 185.90 165.85 185.90 L169.35 185.90 Q170.75 185.90 170.75 187.30 L171.80 200.40" fill="none" stroke="#1b1b1b" stroke-width="1.4" />
<path d="M191.40 200.40 L192.45 187.30 Q192.45 185.90 193.85 185.90 L197.35 185.90 Q198.75 185.90 198.75 187.30 L199.80 200.40" fill="none" stroke="#1b1b1b" stroke-width="1.4" />
<rect x="129.00" y="184.00" width="8.20" height="17.50" fill="white" rx="0"/>
<rect x="178.00" y="184.00" width="8.20" height="17.50" fill="white" rx="0"/>
<line x1="129.00" y1="182.80" x2="129.00" y2="203.10" stroke="#1b1b1b" stroke-width="1.1" />
<line x1="137.20" y1="182.80" x2="137.20" y2="203.10" stroke="#1b1b1b" stroke-width="1.1" />
<line x1="178.00" y1="182.80" x2="178.00" y2="203.10" stroke="#1b1b1b" stroke-width="1.1" />
<line x1="186.20" y1="182.80" x2="186.20" y2="203.10" stroke="#1b1b1b" stroke-width="1.1" />
<rect x="132.30" y="188.90" width="4.60" height="2.80" fill="#cfcfcf" stroke="#1b1b1b" stroke-width="1.1" rx="1.2"/>
<rect x="130.90" y="192.50" width="3.80" height="2.20" fill="#e8e8e8" stroke="#1b1b1b" stroke-width="1.1" rx="0.3"/>
<rect x="181.30" y="188.90" width="4.60" height="2.80" fill="#cfcfcf" stroke="#1b1b1b" stroke-width="1.1" rx="1.2"/>
<rect x="179.90" y="192.50" width="3.80" height="2.20" fill="#e8e8e8" stroke="#1b1b1b" stroke-width="1.1" rx="0.3"/>
<rect x="203.10" y="180.10" width="78.80" height="26.10" fill="white" stroke="#1b1b1b" stroke-width="1.2" rx="1.5"/>
<rect x="203.90" y="182.90" width="69.70" height="19.70" fill="#1e1e1e" rx="0"/>
<rect x="205.20" y="183.70" width="1.60" height="18.10" fill="#f6f6f6" rx="0.8"/>
<rect x="209.29" y="183.70" width="1.60" height="18.10" fill="#f6f6f6" rx="0.8"/>
<rect x="213.39" y="183.70" width="1.60" height="18.10" fill="#f6f6f6" rx="0.8"/>
<rect x="217.48" y="183.70" width="1.60" height="18.10" fill="#f6f6f6" rx="0.8"/>
<rect x="221.57" y="183.70" width="1.60" height="18.10" fill="#f6f6f6" rx="0.8"/>
<rect x="225.67" y="183.70" width="1.60" height="18.10" fill="#f6f6f6" rx="0.8"/>
<rect x="229.76" y="183.70" width="1.60" height="18.10" fill="#f6f6f6" rx="0.8"/>
<rect x="233.86" y="183.70" width="1.60" height="18.10" fill="#f6f6f6" rx="0.8"/>
<rect x="237.95" y="183.70" width="1.60" height="18.10" fill="#f6f6f6" rx="0.8"/>
<rect x="242.04" y="183.70" width="1.60" height="18.10" fill="#f6f6f6" rx="0.8"/>
<rect x="246.14" y="183.70" width="1.60" height="18.10" fill="#f6f6f6" rx="0.8"/>
<rect x="250.23" y="183.70" width="1.60" height="18.10" fill="#f6f6f6" rx="0.8"/>
<rect x="254.32" y="183.70" width="1.60" height="18.10" fill="#f6f6f6" rx="0.8"/>
<rect x="258.42" y="183.70" width="1.60" height="18.10" fill="#f6f6f6" rx="0.8"/>
<rect x="262.51" y="183.70" width="1.60" height="18.10" fill="#f6f6f6" rx="0.8"/>
<rect x="266.61" y="183.70" width="1.60" height="18.10" fill="#f6f6f6" rx="0.8"/>
<rect x="270.70" y="183.70" width="1.60" height="18.10" fill="#f6f6f6" rx="0.8"/>
<ellipse cx="278.0" cy="192.30" rx="1.2" ry="1.4" fill="white" stroke="#1b1b1b" stroke-width="0.9"/>
<line x1="87.40" y1="217.10" x2="203.80" y2="217.10" stroke="#1b1b1b" stroke-width="0.9" />
<line x1="84.40" y1="220.10" x2="203.80" y2="220.10" stroke="#1b1b1b" stroke-width="1.7" />
<line x1="89.40" y1="223.40" x2="129.00" y2="223.40" stroke="#1b1b1b" stroke-width="0.9" />
<line x1="137.20" y1="223.40" x2="178.00" y2="223.40" stroke="#1b1b1b" stroke-width="0.9" />
<line x1="186.20" y1="223.40" x2="203.80" y2="223.40" stroke="#1b1b1b" stroke-width="0.9" />
<line x1="87.40" y1="255.50" x2="203.80" y2="255.50" stroke="#1b1b1b" stroke-width="0.9" />
<line x1="84.40" y1="252.30" x2="203.80" y2="252.30" stroke="#1b1b1b" stroke-width="1.7" />
<line x1="89.40" y1="249.50" x2="129.00" y2="249.50" stroke="#1b1b1b" stroke-width="0.9" />
<line x1="137.20" y1="249.50" x2="178.00" y2="249.50" stroke="#1b1b1b" stroke-width="0.9" />
<line x1="186.20" y1="249.50" x2="203.80" y2="249.50" stroke="#1b1b1b" stroke-width="0.9" />
<line x1="89.00" y1="223.40" x2="89.00" y2="249.50" stroke="#1b1b1b" stroke-width="1.0" stroke-dasharray="1.5 1"/>
<line x1="93.80" y1="223.40" x2="93.80" y2="249.50" stroke="#1b1b1b" stroke-width="1.0" stroke-dasharray="1.5 1"/>
<line x1="98.00" y1="223.40" x2="98.00" y2="249.50" stroke="#1b1b1b" stroke-width="1.0" />
<line x1="129.00" y1="220.10" x2="129.00" y2="252.30" stroke="#1b1b1b" stroke-width="1.1" />
<line x1="137.20" y1="220.10" x2="137.20" y2="252.30" stroke="#1b1b1b" stroke-width="1.1" />
<line x1="178.00" y1="220.10" x2="178.00" y2="252.30" stroke="#1b1b1b" stroke-width="1.1" />
<line x1="186.20" y1="220.10" x2="186.20" y2="252.30" stroke="#1b1b1b" stroke-width="1.1" />
<line x1="202.00" y1="223.40" x2="202.00" y2="249.50" stroke="#1b1b1b" stroke-width="1.0" />
<line x1="83.80" y1="218.60" x2="83.80" y2="254.00" stroke="#1b1b1b" stroke-width="1.5" />
<circle cx="85.00" cy="219.70" r="1.9" fill="#1b1b1b"/>
<circle cx="85.00" cy="252.90" r="1.9" fill="#1b1b1b"/>
<path d="M85 220.10 Q89.8 222.10 89.8 225.60 L89.8 247.00 Q89.8 250.50 85 252.50" fill="none" stroke="#1b1b1b" stroke-width="1.0" />
<line x1="80.70" y1="236.20" x2="91.50" y2="236.20" stroke="#1b1b1b" stroke-width="0.9" />
<circle cx="87.40" cy="236.20" r="1.4" fill="#1b1b1b"/>
<path d="M103.30 223.80 L104.30 234.40 Q104.30 235.80 105.70 235.80 L107.50 235.80 Q108.90 235.80 108.90 234.40 L109.90 223.80" fill="none" stroke="#1b1b1b" stroke-width="1.2" />
<path d="M113.90 223.80 L114.90 234.40 Q114.90 235.80 116.30 235.80 L118.10 235.80 Q119.50 235.80 119.50 234.40 L120.50 223.80" fill="none" stroke="#1b1b1b" stroke-width="1.2" />
<path d="M124.50 223.80 L125.50 234.40 Q125.50 235.80 126.90 235.80 L128.70 235.80 Q130.10 235.80 130.10 234.40 L131.10 223.80" fill="none" stroke="#1b1b1b" stroke-width="1.2" />
<path d="M136.70 223.80 L137.70 234.40 Q137.70 235.80 139.10 235.80 L140.90 235.80 Q142.30 235.80 142.30 234.40 L143.30 223.80" fill="none" stroke="#1b1b1b" stroke-width="1.2" />
<path d="M147.10 223.80 L148.10 234.40 Q148.10 235.80 149.50 235.80 L151.30 235.80 Q152.70 235.80 152.70 234.40 L153.70 223.80" fill="none" stroke="#1b1b1b" stroke-width="1.2" />
<path d="M157.60 223.80 L158.60 234.40 Q158.60 235.80 160.00 235.80 L161.80 235.80 Q163.20 235.80 163.20 234.40 L164.20 223.80" fill="none" stroke="#1b1b1b" stroke-width="1.2" />
<path d="M168.10 223.80 L169.10 234.40 Q169.10 235.80 170.50 235.80 L172.30 235.80 Q173.70 235.80 173.70 234.40 L174.70 223.80" fill="none" stroke="#1b1b1b" stroke-width="1.2" />
<path d="M190.20 223.80 L191.20 234.40 Q191.20 235.80 192.60 235.80 L194.40 235.80 Q195.80 235.80 195.80 234.40 L196.80 223.80" fill="none" stroke="#1b1b1b" stroke-width="1.2" />
<path d="M103.30 249.40 L104.30 239.40 Q104.30 238.00 105.70 238.00 L107.50 238.00 Q108.90 238.00 108.90 239.40 L109.90 249.40" fill="none" stroke="#1b1b1b" stroke-width="1.2" />
<path d="M113.90 249.40 L114.90 239.40 Q114.90 238.00 116.30 238.00 L118.10 238.00 Q119.50 238.00 119.50 239.40 L120.50 249.40" fill="none" stroke="#1b1b1b" stroke-width="1.2" />
<path d="M124.50 249.40 L125.50 239.40 Q125.50 238.00 126.90 238.00 L128.70 238.00 Q130.10 238.00 130.10 239.40 L131.10 249.40" fill="none" stroke="#1b1b1b" stroke-width="1.2" />
<path d="M136.70 249.40 L137.70 239.40 Q137.70 238.00 139.10 238.00 L140.90 238.00 Q142.30 238.00 142.30 239.40 L143.30 249.40" fill="none" stroke="#1b1b1b" stroke-width="1.2" />
<path d="M147.10 249.40 L148.10 239.40 Q148.10 238.00 149.50 238.00 L151.30 238.00 Q152.70 238.00 152.70 239.40 L153.70 249.40" fill="none" stroke="#1b1b1b" stroke-width="1.2" />
<path d="M157.60 249.40 L158.60 239.40 Q158.60 238.00 160.00 238.00 L161.80 238.00 Q163.20 238.00 163.20 239.40 L164.20 249.40" fill="none" stroke="#1b1b1b" stroke-width="1.2" />
<path d="M168.10 249.40 L169.10 239.40 Q169.10 238.00 170.50 238.00 L172.30 238.00 Q173.70 238.00 173.70 239.40 L174.70 249.40" fill="none" stroke="#1b1b1b" stroke-width="1.2" />
<path d="M190.20 249.40 L191.20 239.40 Q191.20 238.00 192.60 238.00 L194.40 238.00 Q195.80 238.00 195.80 239.40 L196.80 249.40" fill="none" stroke="#1b1b1b" stroke-width="1.2" />
<rect x="129.00" y="224.00" width="8.20" height="26.00" fill="white" rx="0"/>
<rect x="178.00" y="224.00" width="8.20" height="26.00" fill="white" rx="0"/>
<line x1="129.00" y1="220.10" x2="129.00" y2="252.30" stroke="#1b1b1b" stroke-width="1.1" />
<line x1="137.20" y1="220.10" x2="137.20" y2="252.30" stroke="#1b1b1b" stroke-width="1.1" />
<line x1="178.00" y1="220.10" x2="178.00" y2="252.30" stroke="#1b1b1b" stroke-width="1.1" />
<line x1="186.20" y1="220.10" x2="186.20" y2="252.30" stroke="#1b1b1b" stroke-width="1.1" />
<rect x="132.30" y="232.70" width="4.60" height="2.80" fill="#cfcfcf" stroke="#1b1b1b" stroke-width="1.1" rx="1.2"/>
<rect x="130.90" y="237.50" width="3.80" height="2.20" fill="#e8e8e8" stroke="#1b1b1b" stroke-width="1.1" rx="0.3"/>
<rect x="181.30" y="232.70" width="4.60" height="2.80" fill="#cfcfcf" stroke="#1b1b1b" stroke-width="1.1" rx="1.2"/>
<rect x="179.90" y="237.50" width="3.80" height="2.20" fill="#e8e8e8" stroke="#1b1b1b" stroke-width="1.1" rx="0.3"/>
<rect x="202.80" y="217.20" width="80.20" height="38.30" fill="white" stroke="#1b1b1b" stroke-width="1.2" rx="1.5"/>
<rect x="203.80" y="221.00" width="69.90" height="31.60" fill="#1e1e1e" rx="0"/>
<rect x="205.10" y="221.80" width="1.80" height="30.00" fill="#f6f6f6" rx="0.9"/>
<rect x="209.19" y="221.80" width="1.80" height="30.00" fill="#f6f6f6" rx="0.9"/>
<rect x="213.29" y="221.80" width="1.80" height="30.00" fill="#f6f6f6" rx="0.9"/>
<rect x="217.38" y="221.80" width="1.80" height="30.00" fill="#f6f6f6" rx="0.9"/>
<rect x="221.47" y="221.80" width="1.80" height="30.00" fill="#f6f6f6" rx="0.9"/>
<rect x="225.57" y="221.80" width="1.80" height="30.00" fill="#f6f6f6" rx="0.9"/>
<rect x="229.66" y="221.80" width="1.80" height="30.00" fill="#f6f6f6" rx="0.9"/>
<rect x="233.76" y="221.80" width="1.80" height="30.00" fill="#f6f6f6" rx="0.9"/>
<rect x="237.85" y="221.80" width="1.80" height="30.00" fill="#f6f6f6" rx="0.9"/>
<rect x="241.94" y="221.80" width="1.80" height="30.00" fill="#f6f6f6" rx="0.9"/>
<rect x="246.04" y="221.80" width="1.80" height="30.00" fill="#f6f6f6" rx="0.9"/>
<rect x="250.13" y="221.80" width="1.80" height="30.00" fill="#f6f6f6" rx="0.9"/>
<rect x="254.22" y="221.80" width="1.80" height="30.00" fill="#f6f6f6" rx="0.9"/>
<rect x="258.32" y="221.80" width="1.80" height="30.00" fill="#f6f6f6" rx="0.9"/>
<rect x="262.41" y="221.80" width="1.80" height="30.00" fill="#f6f6f6" rx="0.9"/>
<rect x="266.51" y="221.80" width="1.80" height="30.00" fill="#f6f6f6" rx="0.9"/>
<rect x="270.60" y="221.80" width="1.80" height="30.00" fill="#f6f6f6" rx="0.9"/>
<ellipse cx="278.0" cy="236.20" rx="1.2" ry="1.4" fill="white" stroke="#1b1b1b" stroke-width="0.9"/>
<line x1="86.50" y1="266.60" x2="203.80" y2="266.60" stroke="#1b1b1b" stroke-width="0.9" />
<line x1="84.50" y1="269.00" x2="203.80" y2="269.00" stroke="#1b1b1b" stroke-width="1.7" />
<line x1="87.00" y1="271.50" x2="129.00" y2="271.50" stroke="#1b1b1b" stroke-width="0.9" />
<line x1="137.20" y1="271.50" x2="178.00" y2="271.50" stroke="#1b1b1b" stroke-width="0.9" />
<line x1="186.20" y1="271.50" x2="203.30" y2="271.50" stroke="#1b1b1b" stroke-width="0.9" />
<line x1="87.00" y1="297.20" x2="129.00" y2="297.20" stroke="#1b1b1b" stroke-width="0.9" />
<line x1="137.20" y1="297.20" x2="178.00" y2="297.20" stroke="#1b1b1b" stroke-width="0.9" />
<line x1="186.20" y1="297.20" x2="203.30" y2="297.20" stroke="#1b1b1b" stroke-width="0.9" />
<line x1="84.50" y1="300.10" x2="203.80" y2="300.10" stroke="#1b1b1b" stroke-width="1.5" />
<line x1="87.00" y1="302.70" x2="129.00" y2="302.70" stroke="#1b1b1b" stroke-width="0.9" />
<line x1="137.20" y1="302.70" x2="178.00" y2="302.70" stroke="#1b1b1b" stroke-width="0.9" />
<line x1="186.20" y1="302.70" x2="203.30" y2="302.70" stroke="#1b1b1b" stroke-width="0.9" />
<line x1="87.00" y1="318.00" x2="129.00" y2="318.00" stroke="#333" stroke-width="1.2" />
<line x1="137.20" y1="318.00" x2="178.00" y2="318.00" stroke="#333" stroke-width="1.2" />
<line x1="186.20" y1="318.00" x2="203.30" y2="318.00" stroke="#333" stroke-width="1.2" />
<line x1="84.50" y1="320.20" x2="203.80" y2="320.20" stroke="#1b1b1b" stroke-width="1.6" />
<line x1="86.50" y1="323.00" x2="203.80" y2="323.00" stroke="#1b1b1b" stroke-width="0.9" />
<line x1="93.00" y1="271.50" x2="93.00" y2="297.20" stroke="#1b1b1b" stroke-width="1.0" stroke-dasharray="1.5 1"/>
<line x1="96.80" y1="271.50" x2="96.80" y2="297.20" stroke="#1b1b1b" stroke-width="1.0" />
<line x1="93.00" y1="302.70" x2="93.00" y2="318.00" stroke="#1b1b1b" stroke-width="1.0" stroke-dasharray="1.5 1"/>
<line x1="96.80" y1="302.70" x2="96.80" y2="318.00" stroke="#1b1b1b" stroke-width="1.0" />
<line x1="129.00" y1="269.00" x2="129.00" y2="320.20" stroke="#1b1b1b" stroke-width="1.0" />
<line x1="137.20" y1="269.00" x2="137.20" y2="320.20" stroke="#1b1b1b" stroke-width="1.0" />
<line x1="178.00" y1="269.00" x2="178.00" y2="320.20" stroke="#1b1b1b" stroke-width="1.0" />
<line x1="186.20" y1="269.00" x2="186.20" y2="320.20" stroke="#1b1b1b" stroke-width="1.0" />
<line x1="202.00" y1="271.50" x2="202.00" y2="318.00" stroke="#1b1b1b" stroke-width="1.0" />
<line x1="82.80" y1="268.80" x2="82.80" y2="298.60" stroke="#1b1b1b" stroke-width="1.2" />
<path d="M83.6 269.00 L88.8 274.70 L88.8 292.70 L83.6 298.40" fill="none" stroke="#1b1b1b" stroke-width="1.0" />
<line x1="82.80" y1="301.60" x2="82.80" y2="320.90" stroke="#1b1b1b" stroke-width="1.2" />
<path d="M83.6 301.80 L88.8 307.50 L88.8 315.00 L83.6 320.70" fill="none" stroke="#1b1b1b" stroke-width="1.0" />
<circle cx="84.20" cy="269.00" r="1.5" fill="#1b1b1b"/>
<circle cx="84.20" cy="320.70" r="1.5" fill="#1b1b1b"/>
<circle cx="84.20" cy="296.20" r="1.4" fill="#1b1b1b"/>
<line x1="80.70" y1="295.60" x2="91.00" y2="295.60" stroke="#1b1b1b" stroke-width="0.9" />
<rect x="132.30" y="280.70" width="4.60" height="2.80" fill="#cfcfcf" stroke="#1b1b1b" stroke-width="1.1" rx="1.2"/>
<rect x="130.90" y="286.00" width="3.80" height="2.20" fill="#e8e8e8" stroke="#1b1b1b" stroke-width="1.1" rx="0.3"/>
<rect x="181.30" y="280.70" width="4.60" height="2.80" fill="#cfcfcf" stroke="#1b1b1b" stroke-width="1.1" rx="1.2"/>
<rect x="179.90" y="286.00" width="3.80" height="2.20" fill="#e8e8e8" stroke="#1b1b1b" stroke-width="1.1" rx="0.3"/>
<rect x="201.70" y="266.50" width="79.70" height="55.10" fill="white" stroke="#1b1b1b" stroke-width="1.2" rx="1.5"/>
<rect x="203.55" y="270.00" width="70.40" height="49.60" fill="#1e1e1e" rx="0"/>
<rect x="204.85" y="270.80" width="2.30" height="18.25" fill="#f6f6f6" rx="1.0"/>
<rect x="204.85" y="290.55" width="2.30" height="9.30" fill="#f6f6f6" rx="1.0"/>
<rect x="204.85" y="301.35" width="2.30" height="17.45" fill="#f6f6f6" rx="1.0"/>
<rect x="208.94" y="270.80" width="2.30" height="18.25" fill="#f6f6f6" rx="1.0"/>
<rect x="208.94" y="290.55" width="2.30" height="9.30" fill="#f6f6f6" rx="1.0"/>
<rect x="208.94" y="301.35" width="2.30" height="17.45" fill="#f6f6f6" rx="1.0"/>
<rect x="213.04" y="270.80" width="2.30" height="18.25" fill="#f6f6f6" rx="1.0"/>
<rect x="213.04" y="290.55" width="2.30" height="9.30" fill="#f6f6f6" rx="1.0"/>
<rect x="213.04" y="301.35" width="2.30" height="17.45" fill="#f6f6f6" rx="1.0"/>
<rect x="217.13" y="270.80" width="2.30" height="18.25" fill="#f6f6f6" rx="1.0"/>
<rect x="217.13" y="290.55" width="2.30" height="9.30" fill="#f6f6f6" rx="1.0"/>
<rect x="217.13" y="301.35" width="2.30" height="17.45" fill="#f6f6f6" rx="1.0"/>
<rect x="221.22" y="270.80" width="2.30" height="18.25" fill="#f6f6f6" rx="1.0"/>
<rect x="221.22" y="290.55" width="2.30" height="9.30" fill="#f6f6f6" rx="1.0"/>
<rect x="221.22" y="301.35" width="2.30" height="17.45" fill="#f6f6f6" rx="1.0"/>
<rect x="225.32" y="270.80" width="2.30" height="18.25" fill="#f6f6f6" rx="1.0"/>
<rect x="225.32" y="290.55" width="2.30" height="9.30" fill="#f6f6f6" rx="1.0"/>
<rect x="225.32" y="301.35" width="2.30" height="17.45" fill="#f6f6f6" rx="1.0"/>
<rect x="229.41" y="270.80" width="2.30" height="18.25" fill="#f6f6f6" rx="1.0"/>
<rect x="229.41" y="290.55" width="2.30" height="9.30" fill="#f6f6f6" rx="1.0"/>
<rect x="229.41" y="301.35" width="2.30" height="17.45" fill="#f6f6f6" rx="1.0"/>
<rect x="233.51" y="270.80" width="2.30" height="18.25" fill="#f6f6f6" rx="1.0"/>
<rect x="233.51" y="290.55" width="2.30" height="9.30" fill="#f6f6f6" rx="1.0"/>
<rect x="233.51" y="301.35" width="2.30" height="17.45" fill="#f6f6f6" rx="1.0"/>
<rect x="237.60" y="270.80" width="2.30" height="18.25" fill="#f6f6f6" rx="1.0"/>
<rect x="237.60" y="290.55" width="2.30" height="9.30" fill="#f6f6f6" rx="1.0"/>
<rect x="237.60" y="301.35" width="2.30" height="17.45" fill="#f6f6f6" rx="1.0"/>
<rect x="241.69" y="270.80" width="2.30" height="18.25" fill="#f6f6f6" rx="1.0"/>
<rect x="241.69" y="290.55" width="2.30" height="9.30" fill="#f6f6f6" rx="1.0"/>
<rect x="241.69" y="301.35" width="2.30" height="17.45" fill="#f6f6f6" rx="1.0"/>
<rect x="245.79" y="270.80" width="2.30" height="18.25" fill="#f6f6f6" rx="1.0"/>
<rect x="245.79" y="290.55" width="2.30" height="9.30" fill="#f6f6f6" rx="1.0"/>
<rect x="245.79" y="301.35" width="2.30" height="17.45" fill="#f6f6f6" rx="1.0"/>
<rect x="249.88" y="270.80" width="2.30" height="18.25" fill="#f6f6f6" rx="1.0"/>
<rect x="249.88" y="290.55" width="2.30" height="9.30" fill="#f6f6f6" rx="1.0"/>
<rect x="249.88" y="301.35" width="2.30" height="17.45" fill="#f6f6f6" rx="1.0"/>
<rect x="253.97" y="270.80" width="2.30" height="18.25" fill="#f6f6f6" rx="1.0"/>
<rect x="253.97" y="290.55" width="2.30" height="9.30" fill="#f6f6f6" rx="1.0"/>
<rect x="253.97" y="301.35" width="2.30" height="17.45" fill="#f6f6f6" rx="1.0"/>
<rect x="258.07" y="270.80" width="2.30" height="18.25" fill="#f6f6f6" rx="1.0"/>
<rect x="258.07" y="290.55" width="2.30" height="9.30" fill="#f6f6f6" rx="1.0"/>
<rect x="258.07" y="301.35" width="2.30" height="17.45" fill="#f6f6f6" rx="1.0"/>
<rect x="262.16" y="270.80" width="2.30" height="18.25" fill="#f6f6f6" rx="1.0"/>
<rect x="262.16" y="290.55" width="2.30" height="9.30" fill="#f6f6f6" rx="1.0"/>
<rect x="262.16" y="301.35" width="2.30" height="17.45" fill="#f6f6f6" rx="1.0"/>
<rect x="266.26" y="270.80" width="2.30" height="18.25" fill="#f6f6f6" rx="1.0"/>
<rect x="266.26" y="290.55" width="2.30" height="9.30" fill="#f6f6f6" rx="1.0"/>
<rect x="266.26" y="301.35" width="2.30" height="17.45" fill="#f6f6f6" rx="1.0"/>
<rect x="270.35" y="270.80" width="2.30" height="18.25" fill="#f6f6f6" rx="1.0"/>
<rect x="270.35" y="290.55" width="2.30" height="9.30" fill="#f6f6f6" rx="1.0"/>
<rect x="270.35" y="301.35" width="2.30" height="17.45" fill="#f6f6f6" rx="1.0"/>
<rect x="203.55" y="289.35" width="70.40" height="0.90" fill="#e8e8e8" rx="0"/>
<rect x="203.55" y="300.15" width="70.40" height="0.90" fill="#e8e8e8" rx="0"/>
<ellipse cx="278.0" cy="294.50" rx="1.2" ry="1.4" fill="white" stroke="#1b1b1b" stroke-width="0.9"/>
<line x1="86.50" y1="334.60" x2="203.80" y2="334.60" stroke="#1b1b1b" stroke-width="0.9" />
<line x1="84.50" y1="337.60" x2="203.80" y2="337.60" stroke="#1b1b1b" stroke-width="1.7" />
<line x1="87.00" y1="340.60" x2="129.00" y2="340.60" stroke="#1b1b1b" stroke-width="0.9" />
<line x1="137.20" y1="340.60" x2="178.00" y2="340.60" stroke="#1b1b1b" stroke-width="0.9" />
<line x1="186.20" y1="340.60" x2="203.30" y2="340.60" stroke="#1b1b1b" stroke-width="0.9" />
<line x1="87.00" y1="366.00" x2="129.00" y2="366.00" stroke="#1b1b1b" stroke-width="0.9" />
<line x1="137.20" y1="366.00" x2="178.00" y2="366.00" stroke="#1b1b1b" stroke-width="0.9" />
<line x1="186.20" y1="366.00" x2="203.30" y2="366.00" stroke="#1b1b1b" stroke-width="0.9" />
<line x1="84.50" y1="368.50" x2="203.80" y2="368.50" stroke="#1b1b1b" stroke-width="1.5" />
<line x1="87.00" y1="370.60" x2="129.00" y2="370.60" stroke="#1b1b1b" stroke-width="0.9" />
<line x1="137.20" y1="370.60" x2="178.00" y2="370.60" stroke="#1b1b1b" stroke-width="0.9" />
<line x1="186.20" y1="370.60" x2="203.30" y2="370.60" stroke="#1b1b1b" stroke-width="0.9" />
<line x1="87.00" y1="385.80" x2="129.00" y2="385.80" stroke="#333" stroke-width="1.1" />
<line x1="137.20" y1="385.80" x2="178.00" y2="385.80" stroke="#333" stroke-width="1.1" />
<line x1="186.20" y1="385.80" x2="203.30" y2="385.80" stroke="#333" stroke-width="1.1" />
<line x1="84.50" y1="388.60" x2="203.80" y2="388.60" stroke="#1b1b1b" stroke-width="1.7" />
<line x1="86.50" y1="391.40" x2="203.80" y2="391.40" stroke="#1b1b1b" stroke-width="0.9" />
<line x1="93.00" y1="340.60" x2="93.00" y2="366.00" stroke="#1b1b1b" stroke-width="1.0" stroke-dasharray="1.5 1"/>
<line x1="96.80" y1="340.60" x2="96.80" y2="366.00" stroke="#1b1b1b" stroke-width="1.0" />
<line x1="93.00" y1="370.60" x2="93.00" y2="385.80" stroke="#1b1b1b" stroke-width="1.0" stroke-dasharray="1.5 1"/>
<line x1="96.80" y1="370.60" x2="96.80" y2="385.80" stroke="#1b1b1b" stroke-width="1.0" />
<line x1="82.80" y1="336.80" x2="82.80" y2="367.00" stroke="#1b1b1b" stroke-width="1.2" />
<path d="M83.6 337.00 L88.8 342.70 L88.8 361.10 L83.6 366.80" fill="none" stroke="#1b1b1b" stroke-width="1.0" />
<line x1="82.80" y1="370.00" x2="82.80" y2="389.60" stroke="#1b1b1b" stroke-width="1.2" />
<path d="M83.6 370.20 L88.8 375.90 L88.8 383.70 L83.6 389.40" fill="none" stroke="#1b1b1b" stroke-width="1.0" />
<circle cx="84.20" cy="337.00" r="1.5" fill="#1b1b1b"/>
<circle cx="84.20" cy="389.60" r="1.5" fill="#1b1b1b"/>
<circle cx="84.20" cy="364.60" r="1.4" fill="#1b1b1b"/>
<line x1="80.70" y1="364.00" x2="91.00" y2="364.00" stroke="#1b1b1b" stroke-width="0.9" />
<path d="M103.35 341.10 L104.20 350.30 Q104.20 351.70 105.60 351.70 L107.60 351.70 Q109.00 351.70 109.00 350.30 L109.85 341.10" fill="none" stroke="#1b1b1b" stroke-width="1.2" />
<path d="M113.95 341.10 L114.80 350.30 Q114.80 351.70 116.20 351.70 L118.20 351.70 Q119.60 351.70 119.60 350.30 L120.45 341.10" fill="none" stroke="#1b1b1b" stroke-width="1.2" />
<path d="M124.55 341.10 L125.40 350.30 Q125.40 351.70 126.80 351.70 L128.80 351.70 Q130.20 351.70 130.20 350.30 L131.05 341.10" fill="none" stroke="#1b1b1b" stroke-width="1.2" />
<path d="M136.75 341.10 L137.60 350.30 Q137.60 351.70 139.00 351.70 L141.00 351.70 Q142.40 351.70 142.40 350.30 L143.25 341.10" fill="none" stroke="#1b1b1b" stroke-width="1.2" />
<path d="M147.05 341.10 L147.90 350.30 Q147.90 351.70 149.30 351.70 L151.30 351.70 Q152.70 351.70 152.70 350.30 L153.55 341.10" fill="none" stroke="#1b1b1b" stroke-width="1.2" />
<path d="M157.55 341.10 L158.40 350.30 Q158.40 351.70 159.80 351.70 L161.80 351.70 Q163.20 351.70 163.20 350.30 L164.05 341.10" fill="none" stroke="#1b1b1b" stroke-width="1.2" />
<path d="M168.05 341.10 L168.90 350.30 Q168.90 351.70 170.30 351.70 L172.30 351.70 Q173.70 351.70 173.70 350.30 L174.55 341.10" fill="none" stroke="#1b1b1b" stroke-width="1.2" />
<path d="M190.15 341.10 L191.00 350.30 Q191.00 351.70 192.40 351.70 L194.40 351.70 Q195.80 351.70 195.80 350.30 L196.65 341.10" fill="none" stroke="#1b1b1b" stroke-width="1.2" />
<path d="M103.35 365.10 L104.20 355.40 Q104.20 354.00 105.60 354.00 L107.60 354.00 Q109.00 354.00 109.00 355.40 L109.85 365.10" fill="none" stroke="#1b1b1b" stroke-width="1.2" />
<path d="M113.95 365.10 L114.80 355.40 Q114.80 354.00 116.20 354.00 L118.20 354.00 Q119.60 354.00 119.60 355.40 L120.45 365.10" fill="none" stroke="#1b1b1b" stroke-width="1.2" />
<path d="M124.55 365.10 L125.40 355.40 Q125.40 354.00 126.80 354.00 L128.80 354.00 Q130.20 354.00 130.20 355.40 L131.05 365.10" fill="none" stroke="#1b1b1b" stroke-width="1.2" />
<path d="M136.75 365.10 L137.60 355.40 Q137.60 354.00 139.00 354.00 L141.00 354.00 Q142.40 354.00 142.40 355.40 L143.25 365.10" fill="none" stroke="#1b1b1b" stroke-width="1.2" />
<path d="M147.05 365.10 L147.90 355.40 Q147.90 354.00 149.30 354.00 L151.30 354.00 Q152.70 354.00 152.70 355.40 L153.55 365.10" fill="none" stroke="#1b1b1b" stroke-width="1.2" />
<path d="M157.55 365.10 L158.40 355.40 Q158.40 354.00 159.80 354.00 L161.80 354.00 Q163.20 354.00 163.20 355.40 L164.05 365.10" fill="none" stroke="#1b1b1b" stroke-width="1.2" />
<path d="M168.05 365.10 L168.90 355.40 Q168.90 354.00 170.30 354.00 L172.30 354.00 Q173.70 354.00 173.70 355.40 L174.55 365.10" fill="none" stroke="#1b1b1b" stroke-width="1.2" />
<path d="M190.15 365.10 L191.00 355.40 Q191.00 354.00 192.40 354.00 L194.40 354.00 Q195.80 354.00 195.80 355.40 L196.65 365.10" fill="none" stroke="#1b1b1b" stroke-width="1.2" />
<path d="M103.35 385.00 L104.20 375.30 Q104.20 373.90 105.60 373.90 L107.60 373.90 Q109.00 373.90 109.00 375.30 L109.85 385.00" fill="none" stroke="#1b1b1b" stroke-width="1.2" />
<path d="M113.95 385.00 L114.80 375.30 Q114.80 373.90 116.20 373.90 L118.20 373.90 Q119.60 373.90 119.60 375.30 L120.45 385.00" fill="none" stroke="#1b1b1b" stroke-width="1.2" />
<path d="M124.55 385.00 L125.40 375.30 Q125.40 373.90 126.80 373.90 L128.80 373.90 Q130.20 373.90 130.20 375.30 L131.05 385.00" fill="none" stroke="#1b1b1b" stroke-width="1.2" />
<path d="M136.75 385.00 L137.60 375.30 Q137.60 373.90 139.00 373.90 L141.00 373.90 Q142.40 373.90 142.40 375.30 L143.25 385.00" fill="none" stroke="#1b1b1b" stroke-width="1.2" />
<path d="M147.05 385.00 L147.90 375.30 Q147.90 373.90 149.30 373.90 L151.30 373.90 Q152.70 373.90 152.70 375.30 L153.55 385.00" fill="none" stroke="#1b1b1b" stroke-width="1.2" />
<path d="M157.55 385.00 L158.40 375.30 Q158.40 373.90 159.80 373.90 L161.80 373.90 Q163.20 373.90 163.20 375.30 L164.05 385.00" fill="none" stroke="#1b1b1b" stroke-width="1.2" />
<path d="M168.05 385.00 L168.90 375.30 Q168.90 373.90 170.30 373.90 L172.30 373.90 Q173.70 373.90 173.70 375.30 L174.55 385.00" fill="none" stroke="#1b1b1b" stroke-width="1.2" />
<path d="M190.15 385.00 L191.00 375.30 Q191.00 373.90 192.40 373.90 L194.40 373.90 Q195.80 373.90 195.80 375.30 L196.65 385.00" fill="none" stroke="#1b1b1b" stroke-width="1.2" />
<rect x="129.00" y="341.20" width="8.20" height="44.00" fill="white" rx="0"/>
<rect x="178.00" y="341.20" width="8.20" height="44.00" fill="white" rx="0"/>
<line x1="129.00" y1="337.60" x2="129.00" y2="388.60" stroke="#1b1b1b" stroke-width="1.1" />
<line x1="137.20" y1="337.60" x2="137.20" y2="388.60" stroke="#1b1b1b" stroke-width="1.1" />
<line x1="178.00" y1="337.60" x2="178.00" y2="388.60" stroke="#1b1b1b" stroke-width="1.1" />
<line x1="186.20" y1="337.60" x2="186.20" y2="388.60" stroke="#1b1b1b" stroke-width="1.1" />
<line x1="87.00" y1="366.00" x2="129.00" y2="366.00" stroke="#1b1b1b" stroke-width="0.9" />
<line x1="137.20" y1="366.00" x2="178.00" y2="366.00" stroke="#1b1b1b" stroke-width="0.9" />
<line x1="186.20" y1="366.00" x2="203.30" y2="366.00" stroke="#1b1b1b" stroke-width="0.9" />
<line x1="87.00" y1="370.60" x2="129.00" y2="370.60" stroke="#1b1b1b" stroke-width="0.9" />
<line x1="137.20" y1="370.60" x2="178.00" y2="370.60" stroke="#1b1b1b" stroke-width="0.9" />
<line x1="186.20" y1="370.60" x2="203.30" y2="370.60" stroke="#1b1b1b" stroke-width="0.9" />
<line x1="84.50" y1="368.50" x2="203.80" y2="368.50" stroke="#1b1b1b" stroke-width="1.5" />
<line x1="202.00" y1="340.60" x2="202.00" y2="385.80" stroke="#1b1b1b" stroke-width="1.0" />
<rect x="132.30" y="348.90" width="4.60" height="2.80" fill="#cfcfcf" stroke="#1b1b1b" stroke-width="1.1" rx="1.2"/>
<rect x="130.90" y="354.00" width="3.80" height="2.20" fill="#e8e8e8" stroke="#1b1b1b" stroke-width="1.1" rx="0.3"/>
<rect x="181.30" y="348.90" width="4.60" height="2.80" fill="#cfcfcf" stroke="#1b1b1b" stroke-width="1.1" rx="1.2"/>
<rect x="179.90" y="354.00" width="3.80" height="2.20" fill="#e8e8e8" stroke="#1b1b1b" stroke-width="1.1" rx="0.3"/>
<rect x="201.70" y="334.60" width="79.70" height="57.00" fill="white" stroke="#1b1b1b" stroke-width="1.2" rx="1.5"/>
<rect x="203.55" y="337.20" width="70.40" height="50.60" fill="#1e1e1e" rx="0"/>
<rect x="204.85" y="338.00" width="2.30" height="19.05" fill="#f6f6f6" rx="1.0"/>
<rect x="204.85" y="358.55" width="2.30" height="9.30" fill="#f6f6f6" rx="1.0"/>
<rect x="204.85" y="369.35" width="2.30" height="17.65" fill="#f6f6f6" rx="1.0"/>
<rect x="208.94" y="338.00" width="2.30" height="19.05" fill="#f6f6f6" rx="1.0"/>
<rect x="208.94" y="358.55" width="2.30" height="9.30" fill="#f6f6f6" rx="1.0"/>
<rect x="208.94" y="369.35" width="2.30" height="17.65" fill="#f6f6f6" rx="1.0"/>
<rect x="213.04" y="338.00" width="2.30" height="19.05" fill="#f6f6f6" rx="1.0"/>
<rect x="213.04" y="358.55" width="2.30" height="9.30" fill="#f6f6f6" rx="1.0"/>
<rect x="213.04" y="369.35" width="2.30" height="17.65" fill="#f6f6f6" rx="1.0"/>
<rect x="217.13" y="338.00" width="2.30" height="19.05" fill="#f6f6f6" rx="1.0"/>
<rect x="217.13" y="358.55" width="2.30" height="9.30" fill="#f6f6f6" rx="1.0"/>
<rect x="217.13" y="369.35" width="2.30" height="17.65" fill="#f6f6f6" rx="1.0"/>
<rect x="221.22" y="338.00" width="2.30" height="19.05" fill="#f6f6f6" rx="1.0"/>
<rect x="221.22" y="358.55" width="2.30" height="9.30" fill="#f6f6f6" rx="1.0"/>
<rect x="221.22" y="369.35" width="2.30" height="17.65" fill="#f6f6f6" rx="1.0"/>
<rect x="225.32" y="338.00" width="2.30" height="19.05" fill="#f6f6f6" rx="1.0"/>
<rect x="225.32" y="358.55" width="2.30" height="9.30" fill="#f6f6f6" rx="1.0"/>
<rect x="225.32" y="369.35" width="2.30" height="17.65" fill="#f6f6f6" rx="1.0"/>
<rect x="229.41" y="338.00" width="2.30" height="19.05" fill="#f6f6f6" rx="1.0"/>
<rect x="229.41" y="358.55" width="2.30" height="9.30" fill="#f6f6f6" rx="1.0"/>
<rect x="229.41" y="369.35" width="2.30" height="17.65" fill="#f6f6f6" rx="1.0"/>
<rect x="233.51" y="338.00" width="2.30" height="19.05" fill="#f6f6f6" rx="1.0"/>
<rect x="233.51" y="358.55" width="2.30" height="9.30" fill="#f6f6f6" rx="1.0"/>
<rect x="233.51" y="369.35" width="2.30" height="17.65" fill="#f6f6f6" rx="1.0"/>
<rect x="237.60" y="338.00" width="2.30" height="19.05" fill="#f6f6f6" rx="1.0"/>
<rect x="237.60" y="358.55" width="2.30" height="9.30" fill="#f6f6f6" rx="1.0"/>
<rect x="237.60" y="369.35" width="2.30" height="17.65" fill="#f6f6f6" rx="1.0"/>
<rect x="241.69" y="338.00" width="2.30" height="19.05" fill="#f6f6f6" rx="1.0"/>
<rect x="241.69" y="358.55" width="2.30" height="9.30" fill="#f6f6f6" rx="1.0"/>
<rect x="241.69" y="369.35" width="2.30" height="17.65" fill="#f6f6f6" rx="1.0"/>
<rect x="245.79" y="338.00" width="2.30" height="19.05" fill="#f6f6f6" rx="1.0"/>
<rect x="245.79" y="358.55" width="2.30" height="9.30" fill="#f6f6f6" rx="1.0"/>
<rect x="245.79" y="369.35" width="2.30" height="17.65" fill="#f6f6f6" rx="1.0"/>
<rect x="249.88" y="338.00" width="2.30" height="19.05" fill="#f6f6f6" rx="1.0"/>
<rect x="249.88" y="358.55" width="2.30" height="9.30" fill="#f6f6f6" rx="1.0"/>
<rect x="249.88" y="369.35" width="2.30" height="17.65" fill="#f6f6f6" rx="1.0"/>
<rect x="253.97" y="338.00" width="2.30" height="19.05" fill="#f6f6f6" rx="1.0"/>
<rect x="253.97" y="358.55" width="2.30" height="9.30" fill="#f6f6f6" rx="1.0"/>
<rect x="253.97" y="369.35" width="2.30" height="17.65" fill="#f6f6f6" rx="1.0"/>
<rect x="258.07" y="338.00" width="2.30" height="19.05" fill="#f6f6f6" rx="1.0"/>
<rect x="258.07" y="358.55" width="2.30" height="9.30" fill="#f6f6f6" rx="1.0"/>
<rect x="258.07" y="369.35" width="2.30" height="17.65" fill="#f6f6f6" rx="1.0"/>
<rect x="262.16" y="338.00" width="2.30" height="19.05" fill="#f6f6f6" rx="1.0"/>
<rect x="262.16" y="358.55" width="2.30" height="9.30" fill="#f6f6f6" rx="1.0"/>
<rect x="262.16" y="369.35" width="2.30" height="17.65" fill="#f6f6f6" rx="1.0"/>
<rect x="266.26" y="338.00" width="2.30" height="19.05" fill="#f6f6f6" rx="1.0"/>
<rect x="266.26" y="358.55" width="2.30" height="9.30" fill="#f6f6f6" rx="1.0"/>
<rect x="266.26" y="369.35" width="2.30" height="17.65" fill="#f6f6f6" rx="1.0"/>
<rect x="270.35" y="338.00" width="2.30" height="19.05" fill="#f6f6f6" rx="1.0"/>
<rect x="270.35" y="358.55" width="2.30" height="9.30" fill="#f6f6f6" rx="1.0"/>
<rect x="270.35" y="369.35" width="2.30" height="17.65" fill="#f6f6f6" rx="1.0"/>
<rect x="203.55" y="357.35" width="70.40" height="0.90" fill="#e8e8e8" rx="0"/>
<rect x="203.55" y="368.15" width="70.40" height="0.90" fill="#e8e8e8" rx="0"/>
<ellipse cx="278.0" cy="362.50" rx="1.2" ry="1.4" fill="white" stroke="#1b1b1b" stroke-width="0.9"/>
</g>
</svg>
<div class="sup">1)</div>
<div class="wm"><div class="sh"></div><span>multicom.by</span></div>
<div class="foot">Термостатическая головка не входит в объем поставки</div>
</body></html>
